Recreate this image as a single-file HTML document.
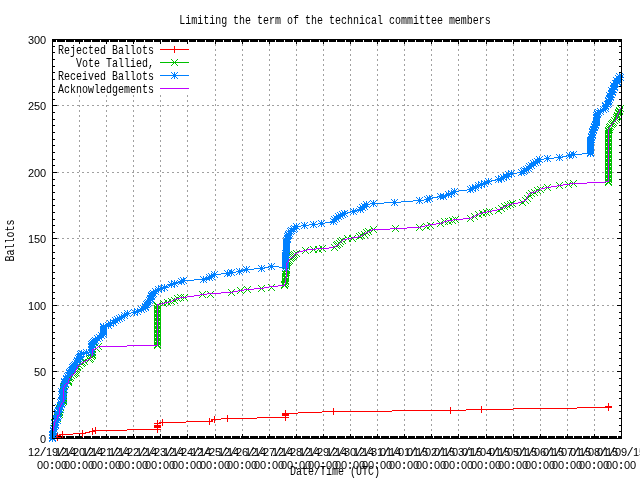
<!DOCTYPE html>
<html lang="en"><head><meta charset="utf-8"><title>Limiting the term of the technical committee members</title><style>html,body{margin:0;padding:0;background:#fff;overflow:hidden}svg{display:block}text.n{font-family:"Liberation Sans",sans-serif;font-size:11px}.p{font-family:"Liberation Mono",monospace;font-size:12px}</style></head><body>
<svg width="640" height="480" viewBox="0 0 640 480">
<rect width="640" height="480" fill="#fff"/>
<g transform="translate(0,0.5)" fill="none" stroke-width="1" shape-rendering="crispEdges">
<path stroke="#a0a0a0" d="M215 39h1M242 39h1M269 39h1M296 39h1M323 39h1M350 39h1M377 39h1M404 39h1M431 39h1M458 39h1M486 39h1M513 39h1M540 39h1M567 39h1M594 39h1M215 40h1M242 40h1M269 40h1M296 40h1M323 40h1M350 40h1M377 40h1M404 40h1M431 40h1M458 40h1M486 40h1M513 40h1M540 40h1M567 40h1M594 40h1M215 44h1M242 44h1M269 44h1M296 44h1M323 44h1M350 44h1M377 44h1M404 44h1M431 44h1M458 44h1M486 44h1M513 44h1M540 44h1M567 44h1M594 44h1M215 45h1M242 45h1M269 45h1M296 45h1M323 45h1M350 45h1M377 45h1M404 45h1M431 45h1M458 45h1M486 45h1M513 45h1M540 45h1M567 45h1M594 45h1M215 49h1M242 49h1M269 49h1M296 49h1M323 49h1M350 49h1M377 49h1M404 49h1M431 49h1M458 49h1M486 49h1M513 49h1M540 49h1M567 49h1M594 49h1M215 50h1M242 50h1M269 50h1M296 50h1M323 50h1M350 50h1M377 50h1M404 50h1M431 50h1M458 50h1M486 50h1M513 50h1M540 50h1M567 50h1M594 50h1M215 54h1M242 54h1M269 54h1M296 54h1M323 54h1M350 54h1M377 54h1M404 54h1M431 54h1M458 54h1M486 54h1M513 54h1M540 54h1M567 54h1M594 54h1M215 55h1M242 55h1M269 55h1M296 55h1M323 55h1M350 55h1M377 55h1M404 55h1M431 55h1M458 55h1M486 55h1M513 55h1M540 55h1M567 55h1M594 55h1M215 59h1M242 59h1M269 59h1M296 59h1M323 59h1M350 59h1M377 59h1M404 59h1M431 59h1M458 59h1M486 59h1M513 59h1M540 59h1M567 59h1M594 59h1M215 60h1M242 60h1M269 60h1M296 60h1M323 60h1M350 60h1M377 60h1M404 60h1M431 60h1M458 60h1M486 60h1M513 60h1M540 60h1M567 60h1M594 60h1M215 64h1M242 64h1M269 64h1M296 64h1M323 64h1M350 64h1M377 64h1M404 64h1M431 64h1M458 64h1M486 64h1M513 64h1M540 64h1M567 64h1M594 64h1M215 65h1M242 65h1M269 65h1M296 65h1M323 65h1M350 65h1M377 65h1M404 65h1M431 65h1M458 65h1M486 65h1M513 65h1M540 65h1M567 65h1M594 65h1M215 69h1M242 69h1M269 69h1M296 69h1M323 69h1M350 69h1M377 69h1M404 69h1M431 69h1M458 69h1M486 69h1M513 69h1M540 69h1M567 69h1M594 69h1M215 70h1M242 70h1M269 70h1M296 70h1M323 70h1M350 70h1M377 70h1M404 70h1M431 70h1M458 70h1M486 70h1M513 70h1M540 70h1M567 70h1M594 70h1M215 74h1M242 74h1M269 74h1M296 74h1M323 74h1M350 74h1M377 74h1M404 74h1M431 74h1M458 74h1M486 74h1M513 74h1M540 74h1M567 74h1M594 74h1M215 75h1M242 75h1M269 75h1M296 75h1M323 75h1M350 75h1M377 75h1M404 75h1M431 75h1M458 75h1M486 75h1M513 75h1M540 75h1M567 75h1M594 75h1M215 79h1M242 79h1M269 79h1M296 79h1M323 79h1M350 79h1M377 79h1M404 79h1M431 79h1M458 79h1M486 79h1M513 79h1M540 79h1M567 79h1M594 79h1M215 80h1M242 80h1M269 80h1M296 80h1M323 80h1M350 80h1M377 80h1M404 80h1M431 80h1M458 80h1M486 80h1M513 80h1M540 80h1M567 80h1M594 80h1M215 84h1M242 84h1M269 84h1M296 84h1M323 84h1M350 84h1M377 84h1M404 84h1M431 84h1M458 84h1M486 84h1M513 84h1M540 84h1M567 84h1M594 84h1M215 85h1M242 85h1M269 85h1M296 85h1M323 85h1M350 85h1M377 85h1M404 85h1M431 85h1M458 85h1M486 85h1M513 85h1M540 85h1M567 85h1M594 85h1M215 89h1M242 89h1M269 89h1M296 89h1M323 89h1M350 89h1M377 89h1M404 89h1M431 89h1M458 89h1M486 89h1M513 89h1M540 89h1M567 89h1M594 89h1M215 90h1M242 90h1M269 90h1M296 90h1M323 90h1M350 90h1M377 90h1M404 90h1M431 90h1M458 90h1M486 90h1M513 90h1M540 90h1M567 90h1M594 90h1M215 94h1M242 94h1M269 94h1M296 94h1M323 94h1M350 94h1M377 94h1M404 94h1M431 94h1M458 94h1M486 94h1M513 94h1M540 94h1M567 94h1M594 94h1M79 95h1M106 95h1M133 95h1M160 95h1M187 95h1M215 95h1M242 95h1M269 95h1M296 95h1M323 95h1M350 95h1M377 95h1M404 95h1M431 95h1M458 95h1M486 95h1M513 95h1M540 95h1M567 95h1M594 95h1M79 96h1M106 96h1M133 96h1M160 96h1M187 96h1M215 99h1M242 99h1M269 99h1M296 99h1M323 99h1M350 99h1M377 99h1M404 99h1M431 99h1M458 99h1M486 99h1M513 99h1M540 99h1M567 99h1M594 99h1M79 100h1M106 100h1M133 100h1M160 100h1M187 100h1M215 100h1M242 100h1M269 100h1M296 100h1M323 100h1M350 100h1M377 100h1M404 100h1M431 100h1M458 100h1M486 100h1M513 100h1M540 100h1M567 100h1M594 100h1M79 101h1M106 101h1M133 101h1M160 101h1M187 101h1M215 104h1M242 104h1M269 104h1M296 104h1M323 104h1M350 104h1M377 104h1M404 104h1M431 104h1M458 104h1M486 104h1M513 104h1M540 104h1M567 104h1M594 104h1M52 105h2M57 105h2M62 105h2M67 105h2M72 105h2M77 105h3M82 105h2M87 105h2M92 105h2M97 105h2M102 105h2M106 105h3M112 105h2M117 105h2M122 105h2M127 105h2M132 105h2M137 105h2M142 105h2M147 105h2M152 105h2M157 105h2M160 105h1M162 105h2M167 105h2M172 105h2M177 105h2M182 105h2M187 105h2M192 105h2M197 105h2M202 105h2M207 105h2M212 105h2M215 105h1M217 105h2M222 105h2M227 105h2M232 105h2M237 105h2M242 105h2M247 105h2M252 105h2M257 105h2M262 105h2M267 105h3M272 105h2M277 105h2M282 105h2M287 105h2M292 105h2M296 105h3M302 105h2M307 105h2M312 105h2M317 105h2M322 105h2M327 105h2M332 105h2M337 105h2M342 105h2M347 105h2M350 105h1M352 105h2M357 105h2M362 105h2M367 105h2M372 105h2M377 105h2M382 105h2M387 105h2M392 105h2M397 105h2M402 105h3M407 105h2M412 105h2M417 105h2M422 105h2M427 105h2M431 105h3M437 105h2M442 105h2M447 105h2M452 105h2M457 105h2M462 105h2M467 105h2M472 105h2M477 105h2M482 105h2M486 105h3M492 105h2M497 105h2M502 105h2M507 105h2M512 105h2M517 105h2M522 105h2M527 105h2M532 105h2M537 105h2M540 105h1M542 105h2M547 105h2M552 105h2M557 105h2M562 105h2M567 105h2M572 105h2M577 105h2M582 105h2M587 105h2M592 105h3M597 105h2M602 105h2M607 105h2M612 105h2M617 105h2M79 106h1M106 106h1M133 106h1M160 106h1M187 106h1M215 109h1M242 109h1M269 109h1M296 109h1M323 109h1M350 109h1M377 109h1M404 109h1M431 109h1M458 109h1M486 109h1M513 109h1M540 109h1M567 109h1M594 109h1M79 110h1M106 110h1M133 110h1M160 110h1M187 110h1M215 110h1M242 110h1M269 110h1M296 110h1M323 110h1M350 110h1M377 110h1M404 110h1M431 110h1M458 110h1M486 110h1M513 110h1M540 110h1M567 110h1M594 110h1M79 111h1M106 111h1M133 111h1M160 111h1M187 111h1M215 114h1M242 114h1M269 114h1M296 114h1M323 114h1M350 114h1M377 114h1M404 114h1M431 114h1M458 114h1M486 114h1M513 114h1M540 114h1M567 114h1M594 114h1M79 115h1M106 115h1M133 115h1M160 115h1M187 115h1M215 115h1M242 115h1M269 115h1M296 115h1M323 115h1M350 115h1M377 115h1M404 115h1M431 115h1M458 115h1M486 115h1M513 115h1M540 115h1M567 115h1M594 115h1M79 116h1M106 116h1M133 116h1M160 116h1M187 116h1M215 119h1M242 119h1M269 119h1M296 119h1M323 119h1M350 119h1M377 119h1M404 119h1M431 119h1M458 119h1M486 119h1M513 119h1M540 119h1M567 119h1M594 119h1M79 120h1M106 120h1M133 120h1M160 120h1M187 120h1M215 120h1M242 120h1M269 120h1M296 120h1M323 120h1M350 120h1M377 120h1M404 120h1M431 120h1M458 120h1M486 120h1M513 120h1M540 120h1M567 120h1M594 120h1M79 121h1M106 121h1M133 121h1M160 121h1M187 121h1M215 124h1M242 124h1M269 124h1M296 124h1M323 124h1M350 124h1M377 124h1M404 124h1M431 124h1M458 124h1M486 124h1M513 124h1M540 124h1M567 124h1M594 124h1M79 125h1M106 125h1M133 125h1M160 125h1M187 125h1M215 125h1M242 125h1M269 125h1M296 125h1M323 125h1M350 125h1M377 125h1M404 125h1M431 125h1M458 125h1M486 125h1M513 125h1M540 125h1M567 125h1M594 125h1M79 126h1M106 126h1M133 126h1M160 126h1M187 126h1M215 129h1M242 129h1M269 129h1M296 129h1M323 129h1M350 129h1M377 129h1M404 129h1M431 129h1M458 129h1M486 129h1M513 129h1M540 129h1M567 129h1M594 129h1M79 130h1M106 130h1M133 130h1M160 130h1M187 130h1M215 130h1M242 130h1M269 130h1M296 130h1M323 130h1M350 130h1M377 130h1M404 130h1M431 130h1M458 130h1M486 130h1M513 130h1M540 130h1M567 130h1M594 130h1M79 131h1M106 131h1M133 131h1M160 131h1M187 131h1M215 134h1M242 134h1M269 134h1M296 134h1M323 134h1M350 134h1M377 134h1M404 134h1M431 134h1M458 134h1M486 134h1M513 134h1M540 134h1M567 134h1M594 134h1M79 135h1M106 135h1M133 135h1M160 135h1M187 135h1M215 135h1M242 135h1M269 135h1M296 135h1M323 135h1M350 135h1M377 135h1M404 135h1M431 135h1M458 135h1M486 135h1M513 135h1M540 135h1M567 135h1M594 135h1M79 136h1M106 136h1M133 136h1M160 136h1M187 136h1M215 139h1M242 139h1M269 139h1M296 139h1M323 139h1M350 139h1M377 139h1M404 139h1M431 139h1M458 139h1M486 139h1M513 139h1M540 139h1M567 139h1M594 139h1M79 140h1M106 140h1M133 140h1M160 140h1M187 140h1M215 140h1M242 140h1M269 140h1M296 140h1M323 140h1M350 140h1M377 140h1M404 140h1M431 140h1M458 140h1M486 140h1M513 140h1M540 140h1M567 140h1M594 140h1M79 141h1M106 141h1M133 141h1M160 141h1M187 141h1M215 144h1M242 144h1M269 144h1M296 144h1M323 144h1M350 144h1M377 144h1M404 144h1M431 144h1M458 144h1M486 144h1M513 144h1M540 144h1M567 144h1M594 144h1M79 145h1M106 145h1M133 145h1M160 145h1M187 145h1M215 145h1M242 145h1M269 145h1M296 145h1M323 145h1M350 145h1M377 145h1M404 145h1M431 145h1M458 145h1M486 145h1M513 145h1M540 145h1M567 145h1M594 145h1M79 146h1M106 146h1M133 146h1M160 146h1M187 146h1M215 149h1M242 149h1M269 149h1M296 149h1M323 149h1M350 149h1M377 149h1M404 149h1M431 149h1M458 149h1M486 149h1M513 149h1M540 149h1M567 149h1M594 149h1M79 150h1M106 150h1M133 150h1M160 150h1M187 150h1M215 150h1M242 150h1M269 150h1M296 150h1M323 150h1M350 150h1M377 150h1M404 150h1M431 150h1M458 150h1M486 150h1M513 150h1M540 150h1M567 150h1M594 150h1M79 151h1M106 151h1M133 151h1M160 151h1M187 151h1M215 154h1M242 154h1M269 154h1M296 154h1M323 154h1M350 154h1M377 154h1M404 154h1M431 154h1M458 154h1M486 154h1M513 154h1M540 154h1M567 154h1M594 154h1M79 155h1M106 155h1M133 155h1M160 155h1M187 155h1M215 155h1M242 155h1M269 155h1M296 155h1M323 155h1M350 155h1M377 155h1M404 155h1M431 155h1M458 155h1M486 155h1M513 155h1M540 155h1M567 155h1M594 155h1M79 156h1M106 156h1M133 156h1M160 156h1M187 156h1M215 159h1M242 159h1M269 159h1M296 159h1M323 159h1M350 159h1M377 159h1M404 159h1M431 159h1M458 159h1M486 159h1M513 159h1M540 159h1M567 159h1M594 159h1M79 160h1M106 160h1M133 160h1M160 160h1M187 160h1M215 160h1M242 160h1M269 160h1M296 160h1M323 160h1M350 160h1M377 160h1M404 160h1M431 160h1M458 160h1M486 160h1M513 160h1M540 160h1M567 160h1M594 160h1M79 161h1M106 161h1M133 161h1M160 161h1M187 161h1M215 164h1M242 164h1M269 164h1M296 164h1M323 164h1M350 164h1M377 164h1M404 164h1M431 164h1M458 164h1M486 164h1M513 164h1M540 164h1M567 164h1M594 164h1M79 165h1M106 165h1M133 165h1M160 165h1M187 165h1M215 165h1M242 165h1M269 165h1M296 165h1M323 165h1M350 165h1M377 165h1M404 165h1M431 165h1M458 165h1M486 165h1M513 165h1M540 165h1M567 165h1M594 165h1M79 166h1M106 166h1M133 166h1M160 166h1M187 166h1M215 169h1M242 169h1M269 169h1M296 169h1M323 169h1M350 169h1M377 169h1M404 169h1M431 169h1M458 169h1M486 169h1M513 169h1M540 169h1M567 169h1M594 169h1M79 170h1M106 170h1M133 170h1M160 170h1M187 170h1M215 170h1M242 170h1M269 170h1M296 170h1M323 170h1M350 170h1M377 170h1M404 170h1M431 170h1M458 170h1M486 170h1M513 170h1M540 170h1M567 170h1M594 170h1M79 171h1M106 171h1M133 171h1M160 171h1M187 171h1M52 172h2M57 172h2M62 172h2M67 172h2M72 172h2M77 172h2M82 172h2M87 172h2M92 172h2M97 172h2M102 172h2M107 172h2M112 172h2M117 172h2M122 172h2M127 172h2M132 172h2M137 172h2M142 172h2M147 172h2M152 172h2M157 172h2M162 172h2M167 172h2M172 172h2M177 172h2M182 172h2M187 172h2M192 172h2M197 172h2M202 172h2M207 172h2M212 172h2M217 172h2M222 172h2M227 172h2M232 172h2M237 172h2M242 172h2M247 172h2M252 172h2M257 172h2M262 172h2M267 172h2M272 172h2M277 172h2M282 172h2M287 172h2M292 172h2M297 172h2M302 172h2M307 172h2M312 172h2M317 172h2M322 172h2M327 172h2M332 172h2M337 172h2M342 172h2M347 172h2M352 172h2M357 172h2M362 172h2M367 172h2M372 172h2M377 172h2M382 172h2M387 172h2M392 172h2M397 172h2M402 172h2M407 172h2M412 172h2M417 172h2M422 172h2M427 172h2M432 172h2M437 172h2M442 172h2M447 172h2M452 172h2M457 172h2M462 172h2M467 172h2M472 172h2M477 172h2M482 172h2M487 172h2M492 172h2M497 172h2M502 172h2M507 172h2M512 172h2M517 172h2M522 172h2M527 172h2M532 172h2M537 172h2M542 172h2M547 172h2M552 172h2M557 172h2M562 172h2M567 172h2M572 172h2M577 172h2M582 172h2M587 172h2M592 172h2M597 172h2M602 172h2M607 172h2M612 172h2M617 172h2M215 174h1M242 174h1M269 174h1M296 174h1M323 174h1M350 174h1M377 174h1M404 174h1M431 174h1M458 174h1M486 174h1M513 174h1M540 174h1M567 174h1M594 174h1M79 175h1M106 175h1M133 175h1M160 175h1M187 175h1M215 175h1M242 175h1M269 175h1M296 175h1M323 175h1M350 175h1M377 175h1M404 175h1M431 175h1M458 175h1M486 175h1M513 175h1M540 175h1M567 175h1M594 175h1M79 176h1M106 176h1M133 176h1M160 176h1M187 176h1M215 179h1M242 179h1M269 179h1M296 179h1M323 179h1M350 179h1M377 179h1M404 179h1M431 179h1M458 179h1M486 179h1M513 179h1M540 179h1M567 179h1M594 179h1M79 180h1M106 180h1M133 180h1M160 180h1M187 180h1M215 180h1M242 180h1M269 180h1M296 180h1M323 180h1M350 180h1M377 180h1M404 180h1M431 180h1M458 180h1M486 180h1M513 180h1M540 180h1M567 180h1M594 180h1M79 181h1M106 181h1M133 181h1M160 181h1M187 181h1M215 184h1M242 184h1M269 184h1M296 184h1M323 184h1M350 184h1M377 184h1M404 184h1M431 184h1M458 184h1M486 184h1M513 184h1M540 184h1M567 184h1M594 184h1M79 185h1M106 185h1M133 185h1M160 185h1M187 185h1M215 185h1M242 185h1M269 185h1M296 185h1M323 185h1M350 185h1M377 185h1M404 185h1M431 185h1M458 185h1M486 185h1M513 185h1M540 185h1M567 185h1M594 185h1M79 186h1M106 186h1M133 186h1M160 186h1M187 186h1M215 189h1M242 189h1M269 189h1M296 189h1M323 189h1M350 189h1M377 189h1M404 189h1M431 189h1M458 189h1M486 189h1M513 189h1M540 189h1M567 189h1M594 189h1M79 190h1M106 190h1M133 190h1M160 190h1M187 190h1M215 190h1M242 190h1M269 190h1M296 190h1M323 190h1M350 190h1M377 190h1M404 190h1M431 190h1M458 190h1M486 190h1M513 190h1M540 190h1M567 190h1M594 190h1M79 191h1M106 191h1M133 191h1M160 191h1M187 191h1M215 194h1M242 194h1M269 194h1M296 194h1M323 194h1M350 194h1M377 194h1M404 194h1M431 194h1M458 194h1M486 194h1M513 194h1M540 194h1M567 194h1M594 194h1M79 195h1M106 195h1M133 195h1M160 195h1M187 195h1M215 195h1M242 195h1M269 195h1M296 195h1M323 195h1M350 195h1M377 195h1M404 195h1M431 195h1M458 195h1M486 195h1M513 195h1M540 195h1M567 195h1M594 195h1M79 196h1M106 196h1M133 196h1M160 196h1M187 196h1M215 199h1M242 199h1M269 199h1M296 199h1M323 199h1M350 199h1M377 199h1M404 199h1M431 199h1M458 199h1M486 199h1M513 199h1M540 199h1M567 199h1M594 199h1M79 200h1M106 200h1M133 200h1M160 200h1M187 200h1M215 200h1M242 200h1M269 200h1M296 200h1M323 200h1M350 200h1M377 200h1M404 200h1M431 200h1M458 200h1M486 200h1M513 200h1M540 200h1M567 200h1M594 200h1M79 201h1M106 201h1M133 201h1M160 201h1M187 201h1M215 204h1M242 204h1M269 204h1M296 204h1M323 204h1M350 204h1M377 204h1M404 204h1M431 204h1M458 204h1M486 204h1M513 204h1M540 204h1M567 204h1M594 204h1M79 205h1M106 205h1M133 205h1M160 205h1M187 205h1M215 205h1M242 205h1M269 205h1M296 205h1M323 205h1M350 205h1M377 205h1M404 205h1M431 205h1M458 205h1M486 205h1M513 205h1M540 205h1M567 205h1M594 205h1M79 206h1M106 206h1M133 206h1M160 206h1M187 206h1M215 209h1M242 209h1M269 209h1M296 209h1M323 209h1M350 209h1M377 209h1M404 209h1M431 209h1M458 209h1M486 209h1M513 209h1M540 209h1M567 209h1M594 209h1M79 210h1M106 210h1M133 210h1M160 210h1M187 210h1M215 210h1M242 210h1M269 210h1M296 210h1M323 210h1M350 210h1M377 210h1M404 210h1M431 210h1M458 210h1M486 210h1M513 210h1M540 210h1M567 210h1M594 210h1M79 211h1M106 211h1M133 211h1M160 211h1M187 211h1M215 214h1M242 214h1M269 214h1M296 214h1M323 214h1M350 214h1M377 214h1M404 214h1M431 214h1M458 214h1M486 214h1M513 214h1M540 214h1M567 214h1M594 214h1M79 215h1M106 215h1M133 215h1M160 215h1M187 215h1M215 215h1M242 215h1M269 215h1M296 215h1M323 215h1M350 215h1M377 215h1M404 215h1M431 215h1M458 215h1M486 215h1M513 215h1M540 215h1M567 215h1M594 215h1M79 216h1M106 216h1M133 216h1M160 216h1M187 216h1M215 219h1M242 219h1M269 219h1M296 219h1M323 219h1M350 219h1M377 219h1M404 219h1M431 219h1M458 219h1M486 219h1M513 219h1M540 219h1M567 219h1M594 219h1M79 220h1M106 220h1M133 220h1M160 220h1M187 220h1M215 220h1M242 220h1M269 220h1M296 220h1M323 220h1M350 220h1M377 220h1M404 220h1M431 220h1M458 220h1M486 220h1M513 220h1M540 220h1M567 220h1M594 220h1M79 221h1M106 221h1M133 221h1M160 221h1M187 221h1M215 224h1M242 224h1M269 224h1M296 224h1M323 224h1M350 224h1M377 224h1M404 224h1M431 224h1M458 224h1M486 224h1M513 224h1M540 224h1M567 224h1M594 224h1M79 225h1M106 225h1M133 225h1M160 225h1M187 225h1M215 225h1M242 225h1M269 225h1M296 225h1M323 225h1M350 225h1M377 225h1M404 225h1M431 225h1M458 225h1M486 225h1M513 225h1M540 225h1M567 225h1M594 225h1M79 226h1M106 226h1M133 226h1M160 226h1M187 226h1M215 229h1M242 229h1M269 229h1M296 229h1M323 229h1M350 229h1M377 229h1M404 229h1M431 229h1M458 229h1M486 229h1M513 229h1M540 229h1M567 229h1M594 229h1M79 230h1M106 230h1M133 230h1M160 230h1M187 230h1M215 230h1M242 230h1M269 230h1M296 230h1M323 230h1M350 230h1M377 230h1M404 230h1M431 230h1M458 230h1M486 230h1M513 230h1M540 230h1M567 230h1M594 230h1M79 231h1M106 231h1M133 231h1M160 231h1M187 231h1M215 234h1M242 234h1M269 234h1M296 234h1M323 234h1M350 234h1M377 234h1M404 234h1M431 234h1M458 234h1M486 234h1M513 234h1M540 234h1M567 234h1M594 234h1M79 235h1M106 235h1M133 235h1M160 235h1M187 235h1M215 235h1M242 235h1M269 235h1M296 235h1M323 235h1M350 235h1M377 235h1M404 235h1M431 235h1M458 235h1M486 235h1M513 235h1M540 235h1M567 235h1M594 235h1M79 236h1M106 236h1M133 236h1M160 236h1M187 236h1M52 238h2M57 238h2M62 238h2M67 238h2M72 238h2M77 238h2M82 238h2M87 238h2M92 238h2M97 238h2M102 238h2M107 238h2M112 238h2M117 238h2M122 238h2M127 238h2M132 238h2M137 238h2M142 238h2M147 238h2M152 238h2M157 238h2M162 238h2M167 238h2M172 238h2M177 238h2M182 238h2M187 238h2M192 238h2M197 238h2M202 238h2M207 238h2M212 238h2M217 238h2M222 238h2M227 238h2M232 238h2M237 238h2M242 238h2M247 238h2M252 238h2M257 238h2M262 238h2M267 238h2M272 238h2M277 238h2M282 238h2M287 238h2M292 238h2M297 238h2M302 238h2M307 238h2M312 238h2M317 238h2M322 238h2M327 238h2M332 238h2M337 238h2M342 238h2M347 238h2M352 238h2M357 238h2M362 238h2M367 238h2M372 238h2M377 238h2M382 238h2M387 238h2M392 238h2M397 238h2M402 238h2M407 238h2M412 238h2M417 238h2M422 238h2M427 238h2M432 238h2M437 238h2M442 238h2M447 238h2M452 238h2M457 238h2M462 238h2M467 238h2M472 238h2M477 238h2M482 238h2M487 238h2M492 238h2M497 238h2M502 238h2M507 238h2M512 238h2M517 238h2M522 238h2M527 238h2M532 238h2M537 238h2M542 238h2M547 238h2M552 238h2M557 238h2M562 238h2M567 238h2M572 238h2M577 238h2M582 238h2M587 238h2M592 238h2M597 238h2M602 238h2M607 238h2M612 238h2M617 238h2M215 239h1M242 239h1M269 239h1M296 239h1M323 239h1M350 239h1M377 239h1M404 239h1M431 239h1M458 239h1M486 239h1M513 239h1M540 239h1M567 239h1M594 239h1M79 240h1M106 240h1M133 240h1M160 240h1M187 240h1M215 240h1M242 240h1M269 240h1M296 240h1M323 240h1M350 240h1M377 240h1M404 240h1M431 240h1M458 240h1M486 240h1M513 240h1M540 240h1M567 240h1M594 240h1M79 241h1M106 241h1M133 241h1M160 241h1M187 241h1M215 244h1M242 244h1M269 244h1M296 244h1M323 244h1M350 244h1M377 244h1M404 244h1M431 244h1M458 244h1M486 244h1M513 244h1M540 244h1M567 244h1M594 244h1M79 245h1M106 245h1M133 245h1M160 245h1M187 245h1M215 245h1M242 245h1M269 245h1M296 245h1M323 245h1M350 245h1M377 245h1M404 245h1M431 245h1M458 245h1M486 245h1M513 245h1M540 245h1M567 245h1M594 245h1M79 246h1M106 246h1M133 246h1M160 246h1M187 246h1M215 249h1M242 249h1M269 249h1M296 249h1M323 249h1M350 249h1M377 249h1M404 249h1M431 249h1M458 249h1M486 249h1M513 249h1M540 249h1M567 249h1M594 249h1M79 250h1M106 250h1M133 250h1M160 250h1M187 250h1M215 250h1M242 250h1M269 250h1M296 250h1M323 250h1M350 250h1M377 250h1M404 250h1M431 250h1M458 250h1M486 250h1M513 250h1M540 250h1M567 250h1M594 250h1M79 251h1M106 251h1M133 251h1M160 251h1M187 251h1M215 254h1M242 254h1M269 254h1M296 254h1M323 254h1M350 254h1M377 254h1M404 254h1M431 254h1M458 254h1M486 254h1M513 254h1M540 254h1M567 254h1M594 254h1M79 255h1M106 255h1M133 255h1M160 255h1M187 255h1M215 255h1M242 255h1M269 255h1M296 255h1M323 255h1M350 255h1M377 255h1M404 255h1M431 255h1M458 255h1M486 255h1M513 255h1M540 255h1M567 255h1M594 255h1M79 256h1M106 256h1M133 256h1M160 256h1M187 256h1M215 259h1M242 259h1M269 259h1M296 259h1M323 259h1M350 259h1M377 259h1M404 259h1M431 259h1M458 259h1M486 259h1M513 259h1M540 259h1M567 259h1M594 259h1M79 260h1M106 260h1M133 260h1M160 260h1M187 260h1M215 260h1M242 260h1M269 260h1M296 260h1M323 260h1M350 260h1M377 260h1M404 260h1M431 260h1M458 260h1M486 260h1M513 260h1M540 260h1M567 260h1M594 260h1M79 261h1M106 261h1M133 261h1M160 261h1M187 261h1M215 264h1M242 264h1M269 264h1M296 264h1M323 264h1M350 264h1M377 264h1M404 264h1M431 264h1M458 264h1M486 264h1M513 264h1M540 264h1M567 264h1M594 264h1M79 265h1M106 265h1M133 265h1M160 265h1M187 265h1M215 265h1M242 265h1M269 265h1M296 265h1M323 265h1M350 265h1M377 265h1M404 265h1M431 265h1M458 265h1M486 265h1M513 265h1M540 265h1M567 265h1M594 265h1M79 266h1M106 266h1M133 266h1M160 266h1M187 266h1M215 269h1M242 269h1M269 269h1M296 269h1M323 269h1M350 269h1M377 269h1M404 269h1M431 269h1M458 269h1M486 269h1M513 269h1M540 269h1M567 269h1M594 269h1M79 270h1M106 270h1M133 270h1M160 270h1M187 270h1M215 270h1M242 270h1M269 270h1M296 270h1M323 270h1M350 270h1M377 270h1M404 270h1M431 270h1M458 270h1M486 270h1M513 270h1M540 270h1M567 270h1M594 270h1M79 271h1M106 271h1M133 271h1M160 271h1M187 271h1M215 274h1M242 274h1M269 274h1M296 274h1M323 274h1M350 274h1M377 274h1M404 274h1M431 274h1M458 274h1M486 274h1M513 274h1M540 274h1M567 274h1M594 274h1M79 275h1M106 275h1M133 275h1M160 275h1M187 275h1M215 275h1M242 275h1M269 275h1M296 275h1M323 275h1M350 275h1M377 275h1M404 275h1M431 275h1M458 275h1M486 275h1M513 275h1M540 275h1M567 275h1M594 275h1M79 276h1M106 276h1M133 276h1M160 276h1M187 276h1M215 279h1M242 279h1M269 279h1M296 279h1M323 279h1M350 279h1M377 279h1M404 279h1M431 279h1M458 279h1M486 279h1M513 279h1M540 279h1M567 279h1M594 279h1M79 280h1M106 280h1M133 280h1M160 280h1M187 280h1M215 280h1M242 280h1M269 280h1M296 280h1M323 280h1M350 280h1M377 280h1M404 280h1M431 280h1M458 280h1M486 280h1M513 280h1M540 280h1M567 280h1M594 280h1M79 281h1M106 281h1M133 281h1M160 281h1M187 281h1M215 284h1M242 284h1M269 284h1M296 284h1M323 284h1M350 284h1M377 284h1M404 284h1M431 284h1M458 284h1M486 284h1M513 284h1M540 284h1M567 284h1M594 284h1M79 285h1M106 285h1M133 285h1M160 285h1M187 285h1M215 285h1M242 285h1M269 285h1M296 285h1M323 285h1M350 285h1M377 285h1M404 285h1M431 285h1M458 285h1M486 285h1M513 285h1M540 285h1M567 285h1M594 285h1M79 286h1M106 286h1M133 286h1M160 286h1M187 286h1M215 289h1M242 289h1M269 289h1M296 289h1M323 289h1M350 289h1M377 289h1M404 289h1M431 289h1M458 289h1M486 289h1M513 289h1M540 289h1M567 289h1M594 289h1M79 290h1M106 290h1M133 290h1M160 290h1M187 290h1M215 290h1M242 290h1M269 290h1M296 290h1M323 290h1M350 290h1M377 290h1M404 290h1M431 290h1M458 290h1M486 290h1M513 290h1M540 290h1M567 290h1M594 290h1M79 291h1M106 291h1M133 291h1M160 291h1M187 291h1M215 294h1M242 294h1M269 294h1M296 294h1M323 294h1M350 294h1M377 294h1M404 294h1M431 294h1M458 294h1M486 294h1M513 294h1M540 294h1M567 294h1M594 294h1M79 295h1M106 295h1M133 295h1M160 295h1M187 295h1M215 295h1M242 295h1M269 295h1M296 295h1M323 295h1M350 295h1M377 295h1M404 295h1M431 295h1M458 295h1M486 295h1M513 295h1M540 295h1M567 295h1M594 295h1M79 296h1M106 296h1M133 296h1M160 296h1M187 296h1M215 299h1M242 299h1M269 299h1M296 299h1M323 299h1M350 299h1M377 299h1M404 299h1M431 299h1M458 299h1M486 299h1M513 299h1M540 299h1M567 299h1M594 299h1M79 300h1M106 300h1M133 300h1M160 300h1M187 300h1M215 300h1M242 300h1M269 300h1M296 300h1M323 300h1M350 300h1M377 300h1M404 300h1M431 300h1M458 300h1M486 300h1M513 300h1M540 300h1M567 300h1M594 300h1M79 301h1M106 301h1M133 301h1M160 301h1M187 301h1M215 304h1M242 304h1M269 304h1M296 304h1M323 304h1M350 304h1M377 304h1M404 304h1M431 304h1M458 304h1M486 304h1M513 304h1M540 304h1M567 304h1M594 304h1M52 305h2M57 305h2M62 305h2M67 305h2M72 305h2M77 305h3M82 305h2M87 305h2M92 305h2M97 305h2M102 305h2M106 305h3M112 305h2M117 305h2M122 305h2M127 305h2M132 305h2M137 305h2M142 305h2M147 305h2M152 305h2M157 305h2M160 305h1M162 305h2M167 305h2M172 305h2M177 305h2M182 305h2M187 305h2M192 305h2M197 305h2M202 305h2M207 305h2M212 305h2M215 305h1M217 305h2M222 305h2M227 305h2M232 305h2M237 305h2M242 305h2M247 305h2M252 305h2M257 305h2M262 305h2M267 305h3M272 305h2M277 305h2M282 305h2M287 305h2M292 305h2M296 305h3M302 305h2M307 305h2M312 305h2M317 305h2M322 305h2M327 305h2M332 305h2M337 305h2M342 305h2M347 305h2M350 305h1M352 305h2M357 305h2M362 305h2M367 305h2M372 305h2M377 305h2M382 305h2M387 305h2M392 305h2M397 305h2M402 305h3M407 305h2M412 305h2M417 305h2M422 305h2M427 305h2M431 305h3M437 305h2M442 305h2M447 305h2M452 305h2M457 305h2M462 305h2M467 305h2M472 305h2M477 305h2M482 305h2M486 305h3M492 305h2M497 305h2M502 305h2M507 305h2M512 305h2M517 305h2M522 305h2M527 305h2M532 305h2M537 305h2M540 305h1M542 305h2M547 305h2M552 305h2M557 305h2M562 305h2M567 305h2M572 305h2M577 305h2M582 305h2M587 305h2M592 305h3M597 305h2M602 305h2M607 305h2M612 305h2M617 305h2M79 306h1M106 306h1M133 306h1M160 306h1M187 306h1M215 309h1M242 309h1M269 309h1M296 309h1M323 309h1M350 309h1M377 309h1M404 309h1M431 309h1M458 309h1M486 309h1M513 309h1M540 309h1M567 309h1M594 309h1M79 310h1M106 310h1M133 310h1M160 310h1M187 310h1M215 310h1M242 310h1M269 310h1M296 310h1M323 310h1M350 310h1M377 310h1M404 310h1M431 310h1M458 310h1M486 310h1M513 310h1M540 310h1M567 310h1M594 310h1M79 311h1M106 311h1M133 311h1M160 311h1M187 311h1M215 314h1M242 314h1M269 314h1M296 314h1M323 314h1M350 314h1M377 314h1M404 314h1M431 314h1M458 314h1M486 314h1M513 314h1M540 314h1M567 314h1M594 314h1M79 315h1M106 315h1M133 315h1M160 315h1M187 315h1M215 315h1M242 315h1M269 315h1M296 315h1M323 315h1M350 315h1M377 315h1M404 315h1M431 315h1M458 315h1M486 315h1M513 315h1M540 315h1M567 315h1M594 315h1M79 316h1M106 316h1M133 316h1M160 316h1M187 316h1M215 319h1M242 319h1M269 319h1M296 319h1M323 319h1M350 319h1M377 319h1M404 319h1M431 319h1M458 319h1M486 319h1M513 319h1M540 319h1M567 319h1M594 319h1M79 320h1M106 320h1M133 320h1M160 320h1M187 320h1M215 320h1M242 320h1M269 320h1M296 320h1M323 320h1M350 320h1M377 320h1M404 320h1M431 320h1M458 320h1M486 320h1M513 320h1M540 320h1M567 320h1M594 320h1M79 321h1M106 321h1M133 321h1M160 321h1M187 321h1M215 324h1M242 324h1M269 324h1M296 324h1M323 324h1M350 324h1M377 324h1M404 324h1M431 324h1M458 324h1M486 324h1M513 324h1M540 324h1M567 324h1M594 324h1M79 325h1M106 325h1M133 325h1M160 325h1M187 325h1M215 325h1M242 325h1M269 325h1M296 325h1M323 325h1M350 325h1M377 325h1M404 325h1M431 325h1M458 325h1M486 325h1M513 325h1M540 325h1M567 325h1M594 325h1M79 326h1M106 326h1M133 326h1M160 326h1M187 326h1M215 329h1M242 329h1M269 329h1M296 329h1M323 329h1M350 329h1M377 329h1M404 329h1M431 329h1M458 329h1M486 329h1M513 329h1M540 329h1M567 329h1M594 329h1M79 330h1M106 330h1M133 330h1M160 330h1M187 330h1M215 330h1M242 330h1M269 330h1M296 330h1M323 330h1M350 330h1M377 330h1M404 330h1M431 330h1M458 330h1M486 330h1M513 330h1M540 330h1M567 330h1M594 330h1M79 331h1M106 331h1M133 331h1M160 331h1M187 331h1M215 334h1M242 334h1M269 334h1M296 334h1M323 334h1M350 334h1M377 334h1M404 334h1M431 334h1M458 334h1M486 334h1M513 334h1M540 334h1M567 334h1M594 334h1M79 335h1M106 335h1M133 335h1M160 335h1M187 335h1M215 335h1M242 335h1M269 335h1M296 335h1M323 335h1M350 335h1M377 335h1M404 335h1M431 335h1M458 335h1M486 335h1M513 335h1M540 335h1M567 335h1M594 335h1M79 336h1M106 336h1M133 336h1M160 336h1M187 336h1M215 339h1M242 339h1M269 339h1M296 339h1M323 339h1M350 339h1M377 339h1M404 339h1M431 339h1M458 339h1M486 339h1M513 339h1M540 339h1M567 339h1M594 339h1M79 340h1M106 340h1M133 340h1M160 340h1M187 340h1M215 340h1M242 340h1M269 340h1M296 340h1M323 340h1M350 340h1M377 340h1M404 340h1M431 340h1M458 340h1M486 340h1M513 340h1M540 340h1M567 340h1M594 340h1M79 341h1M106 341h1M133 341h1M160 341h1M187 341h1M215 344h1M242 344h1M269 344h1M296 344h1M323 344h1M350 344h1M377 344h1M404 344h1M431 344h1M458 344h1M486 344h1M513 344h1M540 344h1M567 344h1M594 344h1M79 345h1M106 345h1M133 345h1M160 345h1M187 345h1M215 345h1M242 345h1M269 345h1M296 345h1M323 345h1M350 345h1M377 345h1M404 345h1M431 345h1M458 345h1M486 345h1M513 345h1M540 345h1M567 345h1M594 345h1M79 346h1M106 346h1M133 346h1M160 346h1M187 346h1M215 349h1M242 349h1M269 349h1M296 349h1M323 349h1M350 349h1M377 349h1M404 349h1M431 349h1M458 349h1M486 349h1M513 349h1M540 349h1M567 349h1M594 349h1M79 350h1M106 350h1M133 350h1M160 350h1M187 350h1M215 350h1M242 350h1M269 350h1M296 350h1M323 350h1M350 350h1M377 350h1M404 350h1M431 350h1M458 350h1M486 350h1M513 350h1M540 350h1M567 350h1M594 350h1M79 351h1M106 351h1M133 351h1M160 351h1M187 351h1M215 354h1M242 354h1M269 354h1M296 354h1M323 354h1M350 354h1M377 354h1M404 354h1M431 354h1M458 354h1M486 354h1M513 354h1M540 354h1M567 354h1M594 354h1M79 355h1M106 355h1M133 355h1M160 355h1M187 355h1M215 355h1M242 355h1M269 355h1M296 355h1M323 355h1M350 355h1M377 355h1M404 355h1M431 355h1M458 355h1M486 355h1M513 355h1M540 355h1M567 355h1M594 355h1M79 356h1M106 356h1M133 356h1M160 356h1M187 356h1M215 359h1M242 359h1M269 359h1M296 359h1M323 359h1M350 359h1M377 359h1M404 359h1M431 359h1M458 359h1M486 359h1M513 359h1M540 359h1M567 359h1M594 359h1M79 360h1M106 360h1M133 360h1M160 360h1M187 360h1M215 360h1M242 360h1M269 360h1M296 360h1M323 360h1M350 360h1M377 360h1M404 360h1M431 360h1M458 360h1M486 360h1M513 360h1M540 360h1M567 360h1M594 360h1M79 361h1M106 361h1M133 361h1M160 361h1M187 361h1M215 364h1M242 364h1M269 364h1M296 364h1M323 364h1M350 364h1M377 364h1M404 364h1M431 364h1M458 364h1M486 364h1M513 364h1M540 364h1M567 364h1M594 364h1M79 365h1M106 365h1M133 365h1M160 365h1M187 365h1M215 365h1M242 365h1M269 365h1M296 365h1M323 365h1M350 365h1M377 365h1M404 365h1M431 365h1M458 365h1M486 365h1M513 365h1M540 365h1M567 365h1M594 365h1M79 366h1M106 366h1M133 366h1M160 366h1M187 366h1M215 369h1M242 369h1M269 369h1M296 369h1M323 369h1M350 369h1M377 369h1M404 369h1M431 369h1M458 369h1M486 369h1M513 369h1M540 369h1M567 369h1M594 369h1M79 370h1M106 370h1M133 370h1M160 370h1M187 370h1M215 370h1M242 370h1M269 370h1M296 370h1M323 370h1M350 370h1M377 370h1M404 370h1M431 370h1M458 370h1M486 370h1M513 370h1M540 370h1M567 370h1M594 370h1M52 371h2M57 371h2M62 371h2M67 371h2M72 371h2M77 371h3M82 371h2M87 371h2M92 371h2M97 371h2M102 371h2M106 371h3M112 371h2M117 371h2M122 371h2M127 371h2M132 371h2M137 371h2M142 371h2M147 371h2M152 371h2M157 371h2M160 371h1M162 371h2M167 371h2M172 371h2M177 371h2M182 371h2M187 371h2M192 371h2M197 371h2M202 371h2M207 371h2M212 371h2M217 371h2M222 371h2M227 371h2M232 371h2M237 371h2M242 371h2M247 371h2M252 371h2M257 371h2M262 371h2M267 371h2M272 371h2M277 371h2M282 371h2M287 371h2M292 371h2M297 371h2M302 371h2M307 371h2M312 371h2M317 371h2M322 371h2M327 371h2M332 371h2M337 371h2M342 371h2M347 371h2M352 371h2M357 371h2M362 371h2M367 371h2M372 371h2M377 371h2M382 371h2M387 371h2M392 371h2M397 371h2M402 371h2M407 371h2M412 371h2M417 371h2M422 371h2M427 371h2M432 371h2M437 371h2M442 371h2M447 371h2M452 371h2M457 371h2M462 371h2M467 371h2M472 371h2M477 371h2M482 371h2M487 371h2M492 371h2M497 371h2M502 371h2M507 371h2M512 371h2M517 371h2M522 371h2M527 371h2M532 371h2M537 371h2M542 371h2M547 371h2M552 371h2M557 371h2M562 371h2M567 371h2M572 371h2M577 371h2M582 371h2M587 371h2M592 371h2M597 371h2M602 371h2M607 371h2M612 371h2M617 371h2M215 374h1M242 374h1M269 374h1M296 374h1M323 374h1M350 374h1M377 374h1M404 374h1M431 374h1M458 374h1M486 374h1M513 374h1M540 374h1M567 374h1M594 374h1M79 375h1M106 375h1M133 375h1M160 375h1M187 375h1M215 375h1M242 375h1M269 375h1M296 375h1M323 375h1M350 375h1M377 375h1M404 375h1M431 375h1M458 375h1M486 375h1M513 375h1M540 375h1M567 375h1M594 375h1M79 376h1M106 376h1M133 376h1M160 376h1M187 376h1M215 379h1M242 379h1M269 379h1M296 379h1M323 379h1M350 379h1M377 379h1M404 379h1M431 379h1M458 379h1M486 379h1M513 379h1M540 379h1M567 379h1M594 379h1M79 380h1M106 380h1M133 380h1M160 380h1M187 380h1M215 380h1M242 380h1M269 380h1M296 380h1M323 380h1M350 380h1M377 380h1M404 380h1M431 380h1M458 380h1M486 380h1M513 380h1M540 380h1M567 380h1M594 380h1M79 381h1M106 381h1M133 381h1M160 381h1M187 381h1M215 384h1M242 384h1M269 384h1M296 384h1M323 384h1M350 384h1M377 384h1M404 384h1M431 384h1M458 384h1M486 384h1M513 384h1M540 384h1M567 384h1M594 384h1M79 385h1M106 385h1M133 385h1M160 385h1M187 385h1M215 385h1M242 385h1M269 385h1M296 385h1M323 385h1M350 385h1M377 385h1M404 385h1M431 385h1M458 385h1M486 385h1M513 385h1M540 385h1M567 385h1M594 385h1M79 386h1M106 386h1M133 386h1M160 386h1M187 386h1M215 389h1M242 389h1M269 389h1M296 389h1M323 389h1M350 389h1M377 389h1M404 389h1M431 389h1M458 389h1M486 389h1M513 389h1M540 389h1M567 389h1M594 389h1M79 390h1M106 390h1M133 390h1M160 390h1M187 390h1M215 390h1M242 390h1M269 390h1M296 390h1M323 390h1M350 390h1M377 390h1M404 390h1M431 390h1M458 390h1M486 390h1M513 390h1M540 390h1M567 390h1M594 390h1M79 391h1M106 391h1M133 391h1M160 391h1M187 391h1M215 394h1M242 394h1M269 394h1M296 394h1M323 394h1M350 394h1M377 394h1M404 394h1M431 394h1M458 394h1M486 394h1M513 394h1M540 394h1M567 394h1M594 394h1M79 395h1M106 395h1M133 395h1M160 395h1M187 395h1M215 395h1M242 395h1M269 395h1M296 395h1M323 395h1M350 395h1M377 395h1M404 395h1M431 395h1M458 395h1M486 395h1M513 395h1M540 395h1M567 395h1M594 395h1M79 396h1M106 396h1M133 396h1M160 396h1M187 396h1M215 399h1M242 399h1M269 399h1M296 399h1M323 399h1M350 399h1M377 399h1M404 399h1M431 399h1M458 399h1M486 399h1M513 399h1M540 399h1M567 399h1M594 399h1M79 400h1M106 400h1M133 400h1M160 400h1M187 400h1M215 400h1M242 400h1M269 400h1M296 400h1M323 400h1M350 400h1M377 400h1M404 400h1M431 400h1M458 400h1M486 400h1M513 400h1M540 400h1M567 400h1M594 400h1M79 401h1M106 401h1M133 401h1M160 401h1M187 401h1M215 404h1M242 404h1M269 404h1M296 404h1M323 404h1M350 404h1M377 404h1M404 404h1M431 404h1M458 404h1M486 404h1M513 404h1M540 404h1M567 404h1M594 404h1M79 405h1M106 405h1M133 405h1M160 405h1M187 405h1M215 405h1M242 405h1M269 405h1M296 405h1M323 405h1M350 405h1M377 405h1M404 405h1M431 405h1M458 405h1M486 405h1M513 405h1M540 405h1M567 405h1M594 405h1M79 406h1M106 406h1M133 406h1M160 406h1M187 406h1M215 409h1M242 409h1M269 409h1M296 409h1M323 409h1M350 409h1M377 409h1M404 409h1M431 409h1M458 409h1M486 409h1M513 409h1M540 409h1M567 409h1M594 409h1M79 410h1M106 410h1M133 410h1M160 410h1M187 410h1M215 410h1M242 410h1M269 410h1M296 410h1M323 410h1M350 410h1M377 410h1M404 410h1M431 410h1M458 410h1M486 410h1M513 410h1M540 410h1M567 410h1M594 410h1M79 411h1M106 411h1M133 411h1M160 411h1M187 411h1M215 414h1M242 414h1M269 414h1M296 414h1M323 414h1M350 414h1M377 414h1M404 414h1M431 414h1M458 414h1M486 414h1M513 414h1M540 414h1M567 414h1M594 414h1M79 415h1M106 415h1M133 415h1M160 415h1M187 415h1M215 415h1M242 415h1M269 415h1M296 415h1M323 415h1M350 415h1M377 415h1M404 415h1M431 415h1M458 415h1M486 415h1M513 415h1M540 415h1M567 415h1M594 415h1M79 416h1M106 416h1M133 416h1M160 416h1M187 416h1M215 419h1M242 419h1M269 419h1M296 419h1M323 419h1M350 419h1M377 419h1M404 419h1M431 419h1M458 419h1M486 419h1M513 419h1M540 419h1M567 419h1M594 419h1M79 420h1M106 420h1M133 420h1M160 420h1M187 420h1M215 420h1M242 420h1M269 420h1M296 420h1M323 420h1M350 420h1M377 420h1M404 420h1M431 420h1M458 420h1M486 420h1M513 420h1M540 420h1M567 420h1M594 420h1M79 421h1M106 421h1M133 421h1M160 421h1M187 421h1M215 424h1M242 424h1M269 424h1M296 424h1M323 424h1M350 424h1M377 424h1M404 424h1M431 424h1M458 424h1M486 424h1M513 424h1M540 424h1M567 424h1M594 424h1M79 425h1M106 425h1M133 425h1M160 425h1M187 425h1M215 425h1M242 425h1M269 425h1M296 425h1M323 425h1M350 425h1M377 425h1M404 425h1M431 425h1M458 425h1M486 425h1M513 425h1M540 425h1M567 425h1M594 425h1M79 426h1M106 426h1M133 426h1M160 426h1M187 426h1M215 429h1M242 429h1M269 429h1M296 429h1M323 429h1M350 429h1M377 429h1M404 429h1M431 429h1M458 429h1M486 429h1M513 429h1M540 429h1M567 429h1M594 429h1M79 430h1M106 430h1M133 430h1M160 430h1M187 430h1M215 430h1M242 430h1M269 430h1M296 430h1M323 430h1M350 430h1M377 430h1M404 430h1M431 430h1M458 430h1M486 430h1M513 430h1M540 430h1M567 430h1M594 430h1M79 431h1M106 431h1M133 431h1M160 431h1M187 431h1M215 434h1M242 434h1M269 434h1M296 434h1M323 434h1M350 434h1M377 434h1M404 434h1M431 434h1M458 434h1M486 434h1M513 434h1M540 434h1M567 434h1M594 434h1M79 435h1M106 435h1M133 435h1M160 435h1M187 435h1M215 435h1M242 435h1M269 435h1M296 435h1M323 435h1M350 435h1M377 435h1M404 435h1M431 435h1M458 435h1M486 435h1M513 435h1M540 435h1M567 435h1M594 435h1M79 436h1M106 436h1M133 436h1M160 436h1M187 436h1"/>
<path stroke="#000" d="M53 39h4M617 39h4M52 40h4M57 40h8M66 40h8M75 40h8M84 40h7M92 40h8M101 40h8M110 40h8M119 40h7M127 40h8M136 40h8M145 40h8M154 40h7M162 40h8M171 40h8M180 40h8M189 40h7M197 40h8M206 40h8M215 40h8M224 40h7M232 40h8M241 40h8M250 40h8M259 40h7M267 40h8M276 40h8M285 40h8M294 40h7M302 40h8M311 40h8M320 40h8M329 40h7M337 40h8M346 40h8M355 40h8M364 40h8M373 40h7M381 40h8M390 40h8M399 40h8M408 40h7M416 40h8M425 40h8M434 40h8M443 40h7M451 40h8M460 40h8M469 40h8M478 40h7M486 40h8M495 40h8M504 40h8M513 40h7M521 40h8M530 40h8M539 40h8M548 40h7M556 40h8M565 40h8M574 40h8M583 40h7M591 40h8M600 40h8M609 40h8M618 40h4M52 41h4M57 41h8M66 41h8M75 41h8M84 41h7M92 41h8M101 41h8M110 41h8M119 41h7M127 41h8M136 41h8M145 41h8M154 41h7M162 41h8M171 41h8M180 41h8M189 41h7M197 41h8M206 41h8M215 41h8M224 41h7M232 41h8M241 41h8M250 41h8M259 41h7M267 41h8M276 41h8M285 41h8M294 41h7M302 41h8M311 41h8M320 41h8M329 41h7M337 41h8M346 41h8M355 41h8M364 41h8M373 41h7M381 41h8M390 41h8M399 41h8M408 41h7M416 41h8M425 41h8M434 41h8M443 41h7M451 41h8M460 41h8M469 41h8M478 41h7M486 41h8M495 41h8M504 41h8M513 41h7M521 41h8M530 41h8M539 41h8M548 41h7M556 41h8M565 41h8M574 41h8M583 41h7M591 41h8M600 41h8M609 41h8M618 41h4M52 42h1M79 42h1M106 42h1M133 42h1M160 42h1M187 42h1M215 42h1M242 42h1M269 42h1M296 42h1M323 42h1M350 42h1M377 42h1M404 42h1M431 42h1M458 42h1M486 42h1M513 42h1M540 42h1M567 42h1M594 42h1M621 42h1M52 43h1M79 43h1M106 43h1M133 43h1M160 43h1M187 43h1M215 43h1M242 43h1M269 43h1M296 43h1M323 43h1M350 43h1M377 43h1M404 43h1M431 43h1M458 43h1M486 43h1M513 43h1M540 43h1M567 43h1M594 43h1M621 43h1M53 46h2M619 46h2M53 52h2M619 52h2M53 59h2M619 59h2M53 66h2M619 66h2M53 72h2M619 72h2M53 79h2M619 79h2M53 86h2M619 86h2M53 92h2M619 92h2M53 99h2M619 99h2M53 105h4M617 105h4M53 112h2M619 112h2M53 119h2M619 119h2M53 125h2M619 125h2M53 132h2M619 132h2M53 139h2M619 139h2M53 145h2M619 145h2M53 152h2M619 152h2M53 159h2M619 159h2M53 165h2M619 165h2M53 172h4M617 172h4M53 179h2M619 179h2M53 185h2M619 185h2M53 192h2M619 192h2M53 199h2M619 199h2M53 205h2M619 205h2M53 212h2M619 212h2M53 219h2M619 219h2M53 225h2M619 225h2M53 232h2M619 232h2M53 238h4M617 238h4M53 245h2M619 245h2M53 252h2M619 252h2M53 258h2M619 258h2M53 265h2M619 265h2M53 272h2M619 272h2M53 278h2M619 278h2M53 285h2M619 285h2M53 292h2M619 292h2M53 298h2M619 298h2M53 305h4M617 305h4M53 312h2M619 312h2M53 318h2M619 318h2M53 325h2M619 325h2M53 332h2M619 332h2M53 338h2M619 338h2M53 345h2M619 345h2M53 352h2M619 352h2M53 358h2M619 358h2M53 365h2M619 365h2M53 371h4M617 371h4M53 378h2M619 378h2M53 385h2M619 385h2M53 391h2M619 391h2M53 398h2M619 398h2M53 405h2M619 405h2M53 411h2M619 411h2M53 418h2M619 418h2M53 425h2M619 425h2M53 431h2M619 431h2M52 434h1M79 434h1M106 434h1M133 434h1M160 434h1M187 434h1M215 434h1M242 434h1M269 434h1M296 434h1M323 434h1M350 434h1M377 434h1M404 434h1M431 434h1M458 434h1M486 434h1M513 434h1M540 434h1M567 434h1M594 434h1M621 434h1M52 435h1M79 435h1M106 435h1M133 435h1M160 435h1M187 435h1M215 435h1M242 435h1M269 435h1M296 435h1M323 435h1M350 435h1M377 435h1M404 435h1M431 435h1M458 435h1M486 435h1M513 435h1M540 435h1M567 435h1M594 435h1M621 435h1M52 436h4M57 436h8M66 436h8M75 436h8M84 436h7M92 436h8M101 436h8M110 436h8M119 436h7M127 436h8M136 436h8M145 436h8M154 436h7M162 436h8M171 436h8M180 436h8M189 436h7M197 436h8M206 436h8M215 436h8M224 436h7M232 436h8M241 436h8M250 436h8M259 436h7M267 436h8M276 436h8M285 436h8M294 436h7M302 436h8M311 436h8M320 436h8M329 436h7M337 436h8M346 436h8M355 436h8M364 436h8M373 436h7M381 436h8M390 436h8M399 436h8M408 436h7M416 436h8M425 436h8M434 436h8M443 436h7M451 436h8M460 436h8M469 436h8M478 436h7M486 436h8M495 436h8M504 436h8M513 436h7M521 436h8M530 436h8M539 436h8M548 436h7M556 436h8M565 436h8M574 436h8M583 436h7M591 436h8M600 436h8M609 436h8M618 436h4M52 437h4M57 437h8M66 437h8M75 437h8M84 437h7M92 437h8M101 437h8M110 437h8M119 437h7M127 437h8M136 437h8M145 437h8M154 437h7M162 437h8M171 437h8M180 437h8M189 437h7M197 437h8M206 437h8M215 437h8M224 437h7M232 437h8M241 437h8M250 437h8M259 437h7M267 437h8M276 437h8M285 437h8M294 437h7M302 437h8M311 437h8M320 437h8M329 437h7M337 437h8M346 437h8M355 437h8M364 437h8M373 437h7M381 437h8M390 437h8M399 437h8M408 437h7M416 437h8M425 437h8M434 437h8M443 437h7M451 437h8M460 437h8M469 437h8M478 437h7M486 437h8M495 437h8M504 437h8M513 437h7M521 437h8M530 437h8M539 437h8M548 437h7M556 437h8M565 437h8M574 437h8M583 437h7M591 437h8M600 437h8M609 437h8M618 437h4M53 438h4M617 438h4"/>
<path stroke="#ff0000" d="M174 46h1M174 47h1M174 48h1M160 49h29M174 50h1M174 51h1M174 52h1M608 403h1M608 404h1M608 405h1M481 406h1M605 406h7M450 407h1M481 407h1M577 407h35M333 408h1M450 408h1M481 408h1M513 408h64M608 408h1M333 409h1M450 409h1M466 409h47M608 409h1M285 410h1M333 410h1M392 410h74M481 410h1M608 410h1M285 411h1M322 411h70M450 411h1M481 411h1M285 412h1M298 412h24M333 412h1M450 412h1M481 412h1M282 413h16M333 413h1M450 413h1M282 414h7M333 414h1M227 415h1M282 415h7M214 416h1M227 416h1M285 416h1M214 417h1M227 417h1M257 417h32M209 418h1M214 418h1M221 418h36M285 418h1M162 419h1M209 419h1M211 419h10M227 419h1M285 419h1M157 420h1M162 420h1M209 420h1M211 420h2M214 420h1M227 420h1M285 420h1M157 421h1M162 421h1M186 421h27M214 421h1M227 421h1M157 422h1M159 422h27M209 422h1M214 422h1M154 423h7M162 423h1M209 423h1M157 424h1M162 424h1M209 424h1M154 425h7M162 425h1M154 426h7M95 427h1M154 427h7M92 428h1M95 428h1M157 428h1M92 429h1M95 429h1M127 429h34M82 430h1M92 430h35M157 430h1M62 431h1M82 431h1M89 431h7M157 431h1M57 432h1M62 432h1M82 432h1M85 432h5M92 432h1M95 432h1M157 432h1M57 433h1M62 433h1M73 433h13M92 433h1M95 433h1M57 434h1M59 434h14M82 434h1M92 434h1M54 435h7M62 435h1M82 435h1M57 436h1M62 436h1M82 436h1M54 437h7M62 437h1M57 438h1M57 439h1M57 440h1"/>
<path stroke="#00c000" d="M171 59h1M177 59h1M172 60h1M176 60h1M173 61h1M175 61h1M160 62h29M173 63h1M175 63h1M172 64h1M176 64h1M171 65h1M177 65h1M617 105h1M623 105h1M618 106h1M622 106h1M616 107h1M619 107h1M621 107h2M616 108h2M620 108h3M615 109h1M617 109h5M615 110h2M618 110h5M616 111h5M623 111h1M614 112h1M617 112h5M614 113h9M613 114h1M615 114h6M622 114h1M614 115h5M620 115h2M613 116h1M615 116h5M621 116h1M611 117h1M614 117h6M612 118h1M614 118h4M619 118h2M610 119h1M613 119h4M618 119h1M620 119h1M609 120h1M611 120h1M613 120h3M617 120h1M619 120h1M608 121h1M610 121h1M612 121h4M618 121h1M609 122h1M611 122h3M616 122h1M619 122h1M607 123h1M610 123h5M617 123h1M606 124h1M608 124h1M611 124h3M615 124h1M607 125h1M609 125h4M614 125h1M616 125h1M606 126h1M608 126h3M612 126h2M615 126h1M605 127h1M607 127h3M611 127h1M614 127h1M605 128h2M608 128h5M606 129h6M613 129h1M605 130h8M605 131h7M605 132h8M605 133h7M605 134h1M607 134h3M611 134h1M605 135h7M605 136h7M605 137h7M605 138h1M607 138h3M611 138h1M605 139h7M605 140h7M605 141h7M605 142h1M607 142h3M611 142h1M605 143h7M605 144h7M605 145h7M605 146h1M607 146h3M611 146h1M605 147h7M605 148h7M605 149h7M605 150h1M607 150h3M611 150h1M605 151h7M605 152h7M605 153h7M605 154h1M607 154h3M611 154h1M605 155h7M605 156h7M605 157h7M605 158h1M607 158h3M611 158h1M605 159h7M605 160h7M605 161h7M605 162h1M607 162h3M611 162h1M605 163h7M605 164h7M605 165h7M605 166h1M607 166h3M611 166h1M605 167h7M605 168h7M605 169h7M605 170h1M607 170h3M611 170h1M605 171h7M605 172h7M605 173h7M605 174h1M607 174h3M611 174h1M605 175h7M605 176h7M605 177h7M605 178h1M607 178h3M611 178h1M605 179h7M570 180h1M576 180h1M605 180h7M565 181h1M571 181h1M575 181h1M605 181h7M556 182h1M562 182h1M566 182h1M570 182h1M572 182h1M574 182h1M587 182h19M607 182h3M611 182h1M557 183h1M561 183h1M567 183h1M569 183h18M606 183h2M609 183h2M544 184h1M550 184h1M558 184h1M560 184h1M563 184h7M572 184h1M574 184h1M605 184h2M610 184h2M545 185h1M549 185h1M557 185h6M567 185h1M569 185h1M571 185h1M575 185h1M605 185h1M611 185h1M537 186h1M543 186h1M546 186h1M548 186h1M551 186h6M558 186h1M560 186h1M566 186h1M570 186h1M576 186h1M534 187h1M538 187h1M540 187h1M542 187h1M545 187h6M557 187h1M561 187h1M565 187h1M571 187h1M535 188h1M539 188h1M541 188h4M546 188h1M548 188h1M556 188h1M562 188h1M531 189h1M536 189h5M545 189h1M549 189h1M528 190h1M532 190h1M534 190h1M536 190h4M541 190h1M544 190h1M550 190h1M529 191h1M533 191h1M535 191h2M538 191h1M542 191h1M526 192h1M530 192h6M537 192h1M539 192h1M543 192h1M527 193h1M529 193h3M533 193h3M540 193h1M528 194h1M530 194h1M532 194h1M536 194h1M524 195h1M528 195h4M533 195h1M537 195h1M525 196h1M527 196h4M534 196h1M522 197h1M526 197h3M531 197h1M523 198h1M526 198h2M532 198h1M519 199h1M524 199h3M528 199h1M509 200h1M515 200h1M520 200h1M524 200h2M529 200h1M507 201h1M510 201h1M513 201h2M521 201h4M526 201h1M530 201h1M504 202h1M508 202h1M510 202h4M518 202h6M527 202h1M501 203h1M505 203h1M507 203h1M509 203h1M511 203h7M521 203h3M528 203h1M502 204h1M506 204h1M508 204h4M513 204h1M520 204h1M524 204h1M498 205h1M503 205h5M509 205h3M514 205h1M519 205h1M525 205h1M499 206h1M503 206h4M508 206h2M512 206h1M515 206h1M495 207h1M500 207h4M505 207h1M507 207h1M509 207h1M513 207h1M486 208h1M492 208h1M496 208h1M500 208h3M504 208h1M506 208h1M510 208h1M483 209h1M487 209h1M489 209h1M491 209h1M497 209h6M507 209h1M479 210h1M484 210h2M488 210h1M490 210h1M492 210h5M498 210h2M503 210h1M475 211h1M480 211h2M484 211h2M487 211h5M497 211h3M504 211h1M476 212h1M480 212h7M488 212h1M490 212h1M496 212h1M500 212h1M471 213h1M477 213h1M479 213h4M485 213h1M487 213h1M491 213h1M495 213h1M501 213h1M472 214h1M476 214h3M481 214h1M483 214h2M486 214h1M488 214h1M492 214h1M467 215h1M473 215h1M475 215h3M479 215h2M483 215h2M489 215h1M452 216h1M458 216h1M468 216h1M472 216h3M476 216h1M479 216h2M485 216h1M449 217h1M453 217h1M455 217h1M457 217h1M469 217h1M471 217h3M475 217h1M481 217h1M441 218h1M445 218h1M447 218h1M450 218h2M454 218h1M456 218h1M463 218h8M472 218h1M476 218h1M442 219h1M446 219h1M450 219h2M453 219h10M469 219h1M471 219h1M477 219h1M437 220h1M443 220h1M445 220h1M447 220h6M454 220h1M456 220h1M468 220h1M472 220h1M438 221h1M442 221h1M444 221h3M448 221h1M451 221h1M453 221h1M457 221h1M467 221h1M473 221h1M427 222h1M433 222h1M439 222h1M441 222h3M445 222h1M447 222h1M449 222h2M452 222h1M454 222h1M458 222h1M423 223h1M428 223h2M432 223h1M436 223h7M446 223h1M449 223h2M455 223h1M416 224h1M422 224h1M424 224h1M428 224h8M439 224h1M441 224h1M445 224h1M447 224h1M451 224h1M392 225h1M398 225h1M417 225h1M421 225h1M425 225h4M430 225h1M438 225h1M442 225h1M370 226h1M376 226h1M393 226h1M397 226h1M418 226h1M420 226h5M426 226h1M429 226h1M431 226h1M437 226h1M443 226h1M371 227h1M375 227h1M394 227h1M396 227h1M407 227h14M425 227h1M427 227h2M432 227h1M365 228h1M371 228h2M374 228h1M390 228h17M418 228h1M420 228h1M424 228h1M427 228h2M433 228h1M363 229h1M366 229h1M369 229h2M372 229h18M394 229h1M396 229h1M417 229h1M421 229h1M423 229h1M429 229h1M364 230h1M367 230h6M374 230h1M393 230h1M397 230h1M416 230h1M422 230h1M361 231h1M365 231h1M367 231h3M371 231h1M375 231h1M392 231h1M398 231h1M358 232h1M362 232h1M364 232h1M366 232h2M369 232h2M376 232h1M356 233h1M359 233h1M362 233h6M370 233h1M357 234h1M360 234h6M368 234h1M371 234h1M344 235h1M349 235h2M355 235h1M358 235h1M360 235h4M365 235h1M369 235h1M345 236h1M349 236h2M354 236h1M358 236h3M362 236h1M366 236h1M339 237h1M345 237h2M348 237h1M351 237h11M363 237h1M367 237h1M337 238h1M340 238h1M343 238h2M347 238h6M357 238h2M361 238h1M364 238h1M338 239h1M341 239h6M348 239h1M351 239h1M353 239h1M356 239h1M362 239h1M336 240h1M339 240h1M341 240h2M345 240h1M349 240h2M354 240h1M334 241h1M337 241h1M340 241h2M343 241h2M349 241h2M355 241h1M333 242h1M335 242h1M338 242h4M344 242h1M334 243h1M336 243h1M338 243h2M342 243h1M345 243h1M331 244h1M335 244h1M337 244h2M340 244h1M343 244h1M319 245h1M325 245h1M332 245h1M336 245h3M341 245h1M310 246h1M315 246h2M320 246h2M324 246h1M333 246h5M339 246h1M342 246h1M302 247h1M308 247h1M311 247h1M315 247h2M320 247h2M323 247h1M329 247h6M338 247h1M340 247h1M303 248h1M307 248h1M312 248h1M314 248h1M316 248h13M333 248h1M335 248h1M339 248h1M304 249h1M306 249h10M318 249h1M321 249h1M323 249h1M332 249h1M336 249h1M293 250h1M299 250h1M303 250h4M312 250h1M314 250h1M317 250h1M319 250h2M324 250h1M331 250h1M337 250h1M291 251h1M294 251h1M297 251h6M304 251h1M306 251h1M311 251h1M315 251h2M319 251h2M325 251h1M290 252h1M292 252h1M295 252h4M303 252h1M307 252h1M310 252h1M315 252h2M321 252h1M289 253h1M291 253h1M293 253h1M295 253h2M302 253h1M308 253h1M288 254h1M290 254h1M292 254h1M294 254h2M297 254h1M287 255h1M289 255h1M291 255h1M293 255h3M298 255h1M288 256h1M290 256h1M292 256h3M296 256h1M299 256h1M286 257h1M289 257h1M291 257h3M295 257h1M297 257h1M285 258h1M287 258h1M290 258h3M294 258h1M296 258h1M284 259h1M286 259h1M288 259h4M293 259h1M295 259h1M283 260h1M285 260h1M287 260h3M292 260h1M294 260h1M284 261h1M286 261h3M290 261h1M293 261h1M283 262h1M285 262h1M287 262h1M289 262h1M291 262h1M283 263h2M286 263h1M288 263h3M292 263h1M284 264h6M291 264h1M283 265h8M283 266h7M283 267h7M283 268h7M283 269h1M285 269h3M289 269h1M282 270h1M284 270h5M282 271h8M283 272h2M286 272h4M282 273h8M282 274h7M282 275h3M286 275h4M282 276h7M282 277h1M284 277h3M288 277h1M282 278h7M282 279h7M282 280h7M281 281h8M281 282h7M282 283h2M285 283h4M268 284h1M274 284h1M282 284h5M288 284h1M258 285h1M264 285h1M269 285h1M273 285h1M278 285h8M287 285h1M244 286h1M250 286h1M259 286h1M263 286h1M269 286h9M282 286h2M285 286h2M288 286h1M237 287h1M243 287h1M245 287h1M249 287h1M260 287h1M262 287h1M264 287h5M271 287h1M281 287h2M286 287h2M238 288h1M242 288h1M246 288h1M248 288h1M254 288h10M270 288h1M272 288h1M281 288h1M287 288h1M228 289h1M234 289h1M239 289h1M241 289h1M244 289h10M260 289h1M262 289h1M269 289h1M273 289h1M229 290h1M233 290h1M238 290h6M246 290h1M248 290h1M259 290h1M263 290h1M268 290h1M274 290h1M199 291h1M205 291h1M207 291h1M213 291h1M230 291h1M232 291h6M239 291h1M241 291h1M245 291h1M249 291h1M258 291h1M264 291h1M200 292h1M204 292h1M208 292h1M212 292h1M221 292h12M238 292h1M242 292h1M244 292h1M250 292h1M201 293h1M203 293h1M207 293h14M230 293h1M232 293h1M237 293h1M243 293h1M177 294h1M181 294h1M183 294h1M187 294h1M200 294h7M210 294h1M229 294h1M233 294h1M174 295h1M178 295h1M180 295h1M182 295h1M186 295h1M194 295h6M201 295h1M203 295h1M209 295h1M211 295h1M228 295h1M234 295h1M175 296h1M179 296h1M181 296h1M183 296h1M185 296h1M187 296h7M200 296h1M204 296h1M208 296h1M212 296h1M171 297h1M176 297h3M180 297h7M199 297h1M205 297h1M207 297h1M213 297h1M168 298h1M172 298h1M174 298h1M176 298h4M181 298h1M183 298h1M185 298h1M164 299h1M169 299h2M173 299h4M178 299h1M182 299h1M186 299h1M160 300h1M165 300h2M169 300h2M172 300h4M177 300h1M179 300h1M181 300h1M183 300h1M187 300h1M161 301h1M165 301h2M168 301h4M173 301h3M180 301h1M154 302h1M160 302h1M162 302h1M164 302h5M170 302h1M172 302h1M176 302h1M154 303h2M159 303h6M166 303h1M168 303h2M171 303h1M173 303h1M177 303h1M155 304h6M162 304h1M164 304h2M168 304h2M174 304h1M154 305h1M156 305h3M160 305h2M164 305h2M170 305h1M154 306h7M166 306h1M154 307h7M154 308h7M154 309h1M156 309h3M160 309h1M154 310h7M154 311h7M154 312h7M154 313h1M156 313h3M160 313h1M154 314h7M154 315h7M154 316h7M154 317h1M156 317h3M160 317h1M154 318h7M154 319h7M154 320h7M154 321h1M156 321h3M160 321h1M154 322h7M154 323h7M154 324h7M154 325h1M156 325h3M160 325h1M154 326h7M154 327h7M154 328h7M154 329h1M156 329h3M160 329h1M154 330h7M154 331h7M154 332h7M154 333h1M156 333h3M160 333h1M154 334h7M154 335h7M154 336h7M154 337h1M156 337h3M160 337h1M154 338h7M154 339h7M154 340h7M154 341h1M156 341h3M160 341h1M154 342h7M95 343h1M101 343h1M154 343h7M96 344h1M100 344h1M154 344h7M93 345h1M97 345h1M99 345h1M127 345h32M160 345h1M89 346h1M94 346h2M98 346h29M155 346h2M158 346h2M90 347h1M94 347h2M97 347h1M99 347h1M154 347h2M159 347h2M89 348h1M91 348h1M93 348h1M95 348h2M100 348h1M154 348h1M160 348h1M89 349h2M92 349h4M97 349h1M101 349h1M90 350h5M98 350h1M89 351h7M99 351h1M89 352h7M88 353h1M90 353h5M89 354h7M87 355h1M89 355h5M95 355h1M86 356h1M88 356h1M90 356h5M87 357h1M89 357h4M94 357h2M81 358h1M87 358h4M93 358h1M95 358h1M79 359h1M82 359h1M85 359h2M88 359h2M91 359h1M94 359h1M78 360h1M80 360h1M83 360h6M90 360h1M92 360h1M79 361h1M81 361h1M83 361h3M87 361h1M91 361h1M93 361h1M76 362h1M80 362h1M82 362h2M85 362h2M92 362h1M74 363h1M77 363h1M80 363h4M86 363h1M74 364h2M78 364h5M84 364h1M87 364h1M75 365h2M78 365h2M83 365h1M85 365h1M73 366h1M76 366h5M84 366h1M72 367h1M74 367h1M76 367h3M81 367h1M73 368h1M75 368h5M82 368h1M72 369h1M74 369h3M78 369h3M71 370h1M73 370h3M77 370h1M80 370h1M70 371h1M72 371h1M74 371h3M78 371h1M68 372h1M71 372h1M73 372h3M77 372h1M79 372h1M69 373h1M72 373h3M76 373h1M78 373h1M67 374h1M70 374h1M72 374h2M75 374h1M77 374h1M66 375h1M68 375h1M71 375h2M74 375h1M76 375h1M78 375h1M67 376h1M69 376h4M75 376h1M77 376h1M65 377h1M68 377h4M73 377h1M76 377h1M65 378h2M68 378h4M74 378h1M65 379h8M66 380h6M73 380h1M62 381h1M66 381h4M72 381h1M61 382h1M63 382h1M66 382h5M61 383h2M64 383h4M69 383h3M62 384h2M65 384h2M70 384h2M60 385h1M63 385h4M71 385h1M60 386h2M63 386h5M61 387h6M68 387h1M60 388h5M66 388h2M60 389h8M60 390h7M60 391h7M60 392h1M62 392h3M66 392h1M60 393h7M60 394h7M60 395h7M60 396h7M60 397h7M60 398h7M59 399h8M58 400h1M60 400h7M58 401h7M66 401h1M59 402h7M57 403h1M60 403h4M65 403h2M57 404h2M60 404h5M66 404h1M56 405h1M58 405h6M65 405h1M56 406h9M57 407h5M64 407h1M56 408h1M58 408h5M56 409h8M57 410h5M63 410h1M56 411h7M55 412h8M56 413h6M54 414h1M56 414h2M59 414h4M54 415h7M62 415h1M53 416h1M55 416h5M61 416h1M54 417h1M56 417h3M60 417h1M62 417h1M52 418h1M55 418h4M61 418h1M51 419h1M53 419h1M55 419h5M52 420h1M54 420h4M59 420h2M53 421h3M58 421h1M60 421h1M53 422h2M56 422h1M59 422h1M53 423h3M57 423h1M52 424h1M54 424h1M56 424h1M58 424h1M51 425h1M54 425h1M57 425h1M53 426h1M53 427h1M53 428h1M53 429h1M53 430h1M52 431h1M52 432h1M52 433h1M52 434h1M52 435h1M52 436h1M52 437h1M52 438h1"/>
<path stroke="#0080ff" d="M171 72h1M174 72h1M177 72h1M172 73h1M174 73h1M176 73h1M616 73h1M619 73h1M622 73h1M173 74h3M617 74h1M619 74h3M623 74h1M160 75h29M615 75h1M618 75h5M173 76h3M616 76h7M172 77h1M174 77h1M176 77h1M613 77h1M616 77h8M171 78h1M174 78h1M177 78h1M614 78h8M614 79h7M622 79h1M612 80h9M623 80h1M613 81h9M610 82h1M613 82h8M611 83h9M611 84h7M619 84h2M610 85h8M620 85h1M610 86h9M608 87h1M611 87h7M609 88h8M609 89h9M608 90h7M617 90h1M608 91h8M606 92h1M609 92h8M607 93h8M607 94h9M606 95h7M615 95h1M606 96h8M605 97h1M607 97h8M605 98h2M608 98h5M606 99h8M605 100h7M613 100h1M604 101h8M602 102h1M605 102h6M612 102h1M602 103h2M605 103h7M603 104h9M602 105h7M610 105h1M600 106h1M602 106h8M611 106h1M601 107h1M603 107h5M610 107h1M597 108h1M600 108h1M602 108h7M595 109h1M598 109h1M600 109h7M608 109h1M594 110h1M596 110h10M607 110h1M594 111h2M597 111h7M605 111h1M608 111h1M593 112h1M595 112h7M603 112h1M606 112h1M594 113h7M602 113h1M593 114h8M603 114h1M593 115h7M601 115h1M594 116h7M593 117h8M593 118h7M593 119h7M593 120h7M592 121h8M592 122h8M591 123h1M593 123h7M591 124h9M592 125h8M590 126h8M590 127h9M589 128h1M591 128h6M598 128h1M589 129h9M590 130h8M589 131h7M589 132h8M588 133h1M590 133h5M596 133h1M588 134h8M589 135h7M588 136h7M587 137h9M587 138h7M595 138h1M587 139h8M587 140h8M587 141h7M587 142h8M587 143h7M587 144h7M587 145h7M587 146h7M587 147h7M587 148h7M587 149h7M587 150h7M570 151h1M573 151h1M576 151h1M587 151h7M566 152h1M569 152h1M571 152h3M575 152h1M587 152h7M567 153h1M569 153h1M571 153h4M582 153h12M556 154h1M559 154h1M562 154h1M568 154h14M588 154h5M544 155h1M547 155h1M550 155h1M557 155h1M559 155h1M561 155h1M566 155h9M587 155h2M590 155h1M592 155h2M536 156h1M539 156h1M542 156h1M545 156h1M547 156h1M549 156h1M558 156h3M562 156h5M568 156h4M573 156h1M575 156h1M587 156h1M590 156h1M593 156h1M537 157h1M539 157h1M541 157h1M546 157h3M554 157h9M567 157h1M569 157h3M573 157h1M576 157h1M534 158h1M537 158h4M544 158h10M558 158h3M566 158h1M569 158h1M572 158h1M532 159h1M535 159h9M546 159h3M557 159h1M559 159h1M561 159h1M530 160h1M533 160h1M535 160h6M545 160h1M547 160h1M549 160h1M556 160h1M559 160h1M562 160h1M531 161h1M533 161h9M544 161h1M547 161h1M550 161h1M528 162h1M531 162h9M542 162h1M526 163h1M529 163h9M539 163h1M527 164h1M529 164h7M537 164h1M540 164h1M525 165h1M528 165h8M538 165h1M523 166h1M526 166h8M536 166h1M521 167h1M524 167h1M526 167h6M533 167h1M520 168h1M522 168h10M534 168h1M518 169h1M521 169h1M523 169h7M532 169h1M508 170h1M511 170h1M514 170h1M519 170h1M521 170h8M530 170h1M505 171h1M508 171h2M511 171h1M513 171h1M520 171h7M528 171h1M531 171h1M506 172h1M508 172h1M510 172h3M517 172h8M526 172h1M529 172h1M503 173h1M506 173h11M520 173h6M527 173h1M500 174h1M503 174h10M519 174h3M523 174h1M526 174h1M498 175h1M501 175h1M503 175h7M511 175h1M513 175h1M518 175h1M521 175h1M524 175h1M495 176h1M498 176h2M501 176h11M514 176h1M496 177h1M498 177h1M500 177h9M511 177h1M485 178h1M488 178h1M491 178h1M497 178h8M506 178h1M508 178h1M486 179h1M488 179h1M490 179h1M495 179h9M505 179h2M509 179h1M481 180h1M484 180h1M487 180h3M491 180h5M497 180h5M503 180h1M506 180h1M478 181h1M481 181h2M484 181h8M496 181h1M498 181h1M500 181h2M504 181h1M475 182h1M478 182h2M481 182h1M483 182h7M495 182h1M498 182h1M501 182h1M476 183h1M478 183h1M480 183h9M490 183h1M472 184h1M475 184h1M477 184h9M488 184h1M491 184h1M469 185h1M472 185h2M475 185h8M484 185h1M486 185h1M467 186h1M470 186h1M472 186h8M481 186h1M483 186h2M487 186h1M468 187h1M470 187h9M480 187h2M484 187h1M451 188h1M454 188h1M457 188h1M469 188h8M478 188h1M481 188h1M452 189h1M454 189h1M456 189h1M467 189h7M475 189h1M477 189h1M448 190h1M451 190h1M453 190h3M459 190h8M469 190h4M474 190h2M478 190h1M445 191h1M448 191h2M451 191h8M468 191h3M472 191h1M475 191h1M446 192h1M448 192h1M450 192h6M467 192h1M470 192h1M473 192h1M437 193h1M440 193h1M443 193h1M446 193h9M456 193h1M438 194h1M440 194h4M445 194h8M454 194h1M457 194h1M426 195h1M429 195h1M432 195h1M439 195h11M451 195h1M453 195h1M424 196h1M427 196h1M429 196h3M437 196h10M448 196h1M450 196h2M454 196h1M416 197h1M419 197h1M422 197h1M425 197h1M427 197h4M432 197h6M439 197h7M448 197h1M451 197h1M417 198h1M419 198h1M421 198h1M426 198h7M438 198h1M440 198h4M445 198h1M391 199h1M394 199h1M397 199h1M418 199h3M424 199h7M437 199h1M440 199h1M443 199h1M446 199h1M370 200h1M373 200h1M376 200h1M392 200h1M394 200h1M396 200h1M413 200h11M426 200h4M431 200h1M363 201h1M366 201h1M369 201h1M371 201h1M373 201h1M375 201h1M393 201h3M401 201h12M418 201h3M425 201h3M429 201h1M432 201h1M364 202h1M366 202h1M368 202h1M372 202h3M384 202h17M417 202h1M419 202h1M421 202h1M424 202h1M427 202h1M430 202h1M361 203h1M364 203h4M370 203h14M393 203h3M416 203h1M419 203h1M422 203h1M359 204h1M362 204h8M372 204h3M392 204h1M394 204h1M396 204h1M360 205h1M362 205h6M371 205h1M373 205h1M375 205h1M391 205h1M394 205h1M397 205h1M357 206h1M360 206h9M370 206h1M373 206h1M376 206h1M358 207h9M369 207h1M350 208h1M353 208h1M356 208h1M359 208h6M366 208h1M351 209h1M353 209h1M355 209h1M357 209h8M367 209h1M341 210h1M344 210h1M347 210h1M352 210h11M365 210h1M339 211h1M342 211h1M344 211h3M350 211h7M358 211h1M360 211h1M362 211h1M337 212h1M340 212h1M342 212h4M347 212h4M352 212h3M357 212h1M360 212h1M363 212h1M335 213h1M338 213h1M340 213h8M351 213h1M353 213h1M355 213h1M336 214h1M338 214h8M350 214h1M353 214h1M356 214h1M333 215h1M336 215h9M346 215h1M331 216h1M334 216h9M344 216h1M347 216h1M332 217h1M334 217h7M342 217h1M345 217h1M330 218h1M333 218h8M343 218h1M331 219h8M341 219h1M318 220h1M321 220h1M324 220h1M332 220h5M338 220h1M310 221h1M313 221h1M316 221h1M319 221h1M321 221h1M323 221h1M330 221h7M339 221h1M301 222h1M304 222h1M307 222h1M311 222h1M313 222h1M315 222h1M320 222h3M325 222h10M337 222h1M293 223h1M296 223h1M299 223h1M302 223h1M304 223h1M306 223h1M312 223h3M318 223h7M331 223h1M333 223h1M335 223h1M294 224h1M296 224h1M298 224h1M303 224h3M309 224h9M320 224h3M330 224h1M333 224h1M336 224h1M291 225h1M294 225h4M301 225h8M312 225h3M319 225h1M321 225h1M323 225h1M290 226h1M292 226h9M303 226h3M311 226h1M313 226h1M315 226h1M318 226h1M321 226h1M324 226h1M288 227h1M291 227h1M293 227h5M302 227h1M304 227h1M306 227h1M310 227h1M313 227h1M316 227h1M287 228h1M289 228h10M301 228h1M304 228h1M307 228h1M288 229h1M290 229h7M299 229h1M286 230h1M288 230h7M296 230h1M285 231h1M287 231h9M297 231h1M285 232h2M288 232h4M293 232h1M296 232h1M284 233h1M286 233h7M294 233h1M285 234h7M293 234h1M284 235h8M284 236h7M292 236h1M283 237h1M285 237h7M284 238h8M283 239h8M283 240h7M283 241h8M283 242h8M283 243h7M283 244h7M283 245h7M283 246h7M283 247h7M283 248h7M283 249h7M282 250h8M283 251h7M282 252h8M282 253h7M282 254h8M282 255h8M282 256h7M282 257h7M282 258h7M282 259h7M282 260h7M282 261h7M282 262h7M268 263h1M271 263h1M274 263h1M282 263h7M269 264h1M271 264h1M273 264h1M282 264h7M258 265h1M261 265h1M264 265h1M270 265h3M282 265h7M243 266h1M246 266h1M249 266h1M259 266h1M261 266h1M263 266h1M268 266h11M282 266h7M244 267h1M246 267h1M248 267h1M260 267h3M264 267h5M270 267h3M279 267h10M236 268h1M239 268h1M242 268h1M245 268h3M254 268h11M269 268h1M271 268h1M273 268h1M282 268h1M284 268h3M288 268h1M228 269h1M231 269h1M234 269h1M237 269h1M239 269h1M241 269h1M243 269h11M260 269h3M268 269h1M271 269h1M274 269h1M283 269h1M285 269h1M287 269h1M224 270h1M227 270h1M229 270h3M233 270h1M238 270h10M259 270h1M261 270h1M263 270h1M282 270h1M285 270h1M288 270h1M211 271h1M214 271h1M217 271h1M225 271h1M227 271h1M229 271h4M236 271h7M244 271h1M246 271h1M248 271h1M258 271h1M261 271h1M264 271h1M212 272h1M214 272h1M216 272h1M226 272h10M238 272h3M243 272h1M246 272h1M249 272h1M208 273h1M211 273h1M213 273h3M221 273h12M237 273h1M239 273h1M241 273h1M206 274h1M209 274h1M211 274h10M226 274h4M231 274h1M233 274h1M236 274h1M239 274h1M242 274h1M207 275h1M209 275h7M225 275h1M227 275h3M231 275h1M234 275h1M200 276h1M203 276h1M206 276h1M208 276h7M216 276h1M224 276h1M227 276h1M230 276h1M180 277h1M183 277h1M186 277h1M201 277h1M203 277h1M205 277h8M214 277h1M217 277h1M178 278h1M181 278h1M183 278h3M202 278h10M213 278h1M179 279h1M181 279h4M194 279h16M211 279h1M214 279h1M171 280h1M174 280h1M177 280h1M180 280h14M202 280h3M206 280h1M209 280h1M212 280h1M168 281h1M171 281h2M174 281h1M176 281h1M178 281h7M201 281h1M203 281h1M205 281h1M169 282h1M171 282h1M173 282h11M185 282h1M200 282h1M203 282h1M206 282h1M170 283h8M179 283h3M183 283h1M186 283h1M161 284h1M164 284h1M167 284h9M178 284h1M181 284h1M184 284h1M158 285h1M161 285h2M164 285h1M166 285h1M168 285h5M174 285h1M176 285h1M155 286h1M158 286h2M161 286h1M163 286h5M169 286h1M171 286h1M173 286h2M177 286h1M156 287h1M158 287h1M160 287h9M171 287h1M174 287h1M152 288h1M155 288h1M157 288h9M153 289h1M155 289h8M164 289h1M166 289h1M150 290h1M153 290h7M161 290h1M163 290h2M167 290h1M149 291h1M151 291h8M160 291h2M164 291h1M148 292h1M150 292h7M158 292h1M161 292h1M148 293h10M149 294h7M158 294h1M147 295h9M147 296h8M156 296h1M146 297h1M148 297h6M155 297h1M147 298h8M145 299h1M147 299h8M144 300h1M146 300h7M143 301h1M145 301h6M152 301h2M144 302h8M153 302h1M142 303h1M144 303h7M152 303h1M142 304h9M140 305h1M143 305h7M151 305h1M138 306h1M141 306h8M150 306h1M139 307h1M141 307h9M134 308h1M137 308h1M140 308h8M131 309h1M134 309h2M137 309h9M147 309h2M124 310h1M127 310h1M130 310h1M132 310h1M134 310h1M136 310h8M145 310h1M148 310h1M125 311h1M127 311h1M129 311h1M133 311h9M143 311h1M146 311h1M121 312h1M124 312h1M126 312h3M131 312h8M141 312h1M144 312h1M122 313h1M124 313h7M133 313h3M137 313h1M139 313h1M118 314h1M121 314h1M123 314h6M132 314h1M134 314h1M136 314h2M140 314h1M116 315h1M119 315h1M121 315h7M129 315h1M131 315h1M134 315h1M137 315h1M114 316h1M117 316h1M119 316h7M127 316h1M130 316h1M112 317h1M115 317h1M117 317h8M126 317h1M113 318h1M115 318h8M124 318h1M127 318h1M110 319h1M113 319h9M123 319h1M107 320h1M110 320h10M121 320h1M124 320h1M108 321h1M110 321h1M112 321h6M119 321h1M122 321h1M105 322h1M108 322h10M120 322h1M100 323h1M103 323h1M106 323h10M118 323h1M100 324h2M103 324h1M105 324h7M113 324h1M115 324h1M101 325h13M116 325h1M100 326h11M113 326h1M100 327h7M108 327h1M110 327h1M100 328h7M108 328h1M111 328h1M100 329h7M100 330h7M100 331h7M98 332h1M100 332h7M99 333h8M96 334h1M99 334h8M94 335h1M97 335h8M106 335h1M95 336h1M97 336h7M105 336h1M92 337h1M95 337h9M106 337h1M91 338h1M93 338h9M104 338h1M90 339h1M92 339h8M101 339h1M89 340h1M91 340h9M102 340h1M88 341h1M90 341h8M100 341h1M89 342h9M88 343h9M98 343h1M88 344h8M97 344h1M89 345h6M96 345h1M88 346h8M88 347h7M89 348h5M83 349h1M86 349h1M88 349h7M78 350h1M81 350h1M84 350h1M86 350h1M88 350h7M77 351h1M79 351h3M83 351h1M85 351h3M89 351h5M78 352h1M80 352h15M77 353h12M90 353h3M94 353h1M76 354h9M86 354h1M88 354h2M91 354h1M93 354h1M75 355h1M77 355h5M83 355h1M86 355h1M88 355h2M91 355h1M94 355h1M76 356h9M74 357h1M76 357h8M74 358h9M73 359h1M75 359h7M83 359h1M74 360h7M82 360h1M72 361h1M74 361h8M71 362h1M73 362h7M70 363h1M72 363h6M79 363h2M69 364h1M71 364h8M80 364h1M70 365h8M79 365h1M69 366h9M68 367h9M78 367h1M67 368h1M69 368h7M77 368h1M66 369h1M68 369h9M66 370h10M67 371h8M65 372h9M75 372h1M64 373h1M66 373h7M74 373h1M65 374h1M67 374h5M73 374h1M63 375h1M65 375h8M63 376h8M72 376h1M64 377h5M70 377h1M61 378h1M63 378h7M71 378h1M61 379h10M62 380h7M61 381h9M61 382h7M69 382h1M60 383h1M62 383h7M60 384h8M61 385h7M60 386h9M60 387h7M58 388h1M61 388h5M67 388h1M59 389h9M59 390h8M58 391h7M66 391h1M59 392h7M67 392h1M59 393h8M58 394h1M60 394h7M59 395h7M59 396h8M58 397h9M58 398h8M57 399h1M59 399h8M58 400h1M60 400h5M58 401h8M57 402h7M66 402h1M57 403h8M55 404h1M58 404h7M56 405h8M57 406h8M55 407h8M64 407h1M55 408h8M54 409h1M56 409h8M54 410h2M57 410h5M55 411h8M54 412h8M63 412h1M54 413h7M52 414h1M55 414h5M61 414h1M53 415h9M53 416h8M52 417h7M60 417h1M52 418h1M54 418h6M61 418h1M53 419h8M51 420h2M54 420h7M52 421h7M52 422h8M51 423h7M60 423h1M52 424h7M50 425h1M52 425h7M51 426h7M50 427h1M52 427h7M50 428h7M58 428h1M51 429h7M50 430h7M49 431h8M49 432h7M57 432h1M50 433h7M49 434h8M49 435h7M50 436h5M56 436h1M49 437h7M49 438h7M50 439h5M49 440h2M52 440h1M54 440h2M49 441h1M52 441h1M55 441h1"/>
<path stroke="#c000ff" d="M160 88h29M620 108h1M619 109h1M619 110h1M619 111h1M618 112h1M618 113h1M617 114h1M617 115h1M617 116h1M616 117h1M616 118h1M616 119h1M615 120h1M614 121h1M613 122h1M612 123h1M611 124h1M611 125h1M610 126h1M609 127h1M609 128h1M608 129h1M608 130h1M608 131h1M608 132h1M608 133h1M608 134h1M608 135h1M608 136h1M608 137h1M608 138h1M608 139h1M608 140h1M608 141h1M608 142h1M608 143h1M608 144h1M608 145h1M608 146h1M608 147h1M608 148h1M608 149h1M608 150h1M608 151h1M608 152h1M608 153h1M608 154h1M608 155h1M608 156h1M608 157h1M608 158h1M608 159h1M608 160h1M608 161h1M608 162h1M608 163h1M608 164h1M608 165h1M608 166h1M608 167h1M608 168h1M608 169h1M608 170h1M608 171h1M608 172h1M608 173h1M608 174h1M608 175h1M608 176h1M608 177h1M608 178h1M608 179h1M608 180h1M605 181h4M587 182h18M570 183h17M563 184h7M557 185h6M551 186h6M545 187h6M541 188h4M539 189h2M537 190h2M535 191h2M531 192h4M529 193h2M528 194h1M528 195h1M527 196h1M527 197h1M526 198h1M526 199h1M524 200h2M522 201h2M518 202h4M512 203h6M508 204h4M506 205h2M504 206h2M502 207h2M500 208h2M497 209h3M492 210h5M487 211h5M482 212h5M479 213h3M477 214h2M475 215h2M473 216h2M471 217h2M463 218h8M453 219h10M447 220h6M444 221h3M442 222h2M436 223h6M429 224h7M425 225h4M421 226h4M407 227h14M390 228h17M372 229h18M370 230h2M368 231h2M366 232h2M364 233h2M363 234h1M361 235h2M358 236h3M352 237h6M347 238h5M343 239h4M342 240h1M341 241h1M340 242h1M339 243h1M338 244h1M336 245h2M334 246h2M329 247h5M316 248h13M307 249h9M303 250h4M299 251h4M297 252h2M295 253h2M294 254h1M294 255h1M293 256h1M291 257h2M290 258h1M289 259h1M288 260h1M288 261h1M287 262h1M286 263h1M286 264h1M286 265h1M286 266h1M286 267h1M286 268h1M286 269h1M286 270h1M286 271h1M286 272h1M286 273h1M286 274h1M286 275h1M286 276h1M286 277h1M285 278h1M285 279h1M285 280h1M285 281h1M285 282h1M285 283h1M284 284h1M278 285h7M269 286h9M264 287h5M254 288h10M244 289h10M238 290h6M233 291h5M221 292h12M207 293h14M200 294h7M194 295h6M187 296h7M180 297h7M176 298h4M174 299h2M172 300h2M169 301h3M165 302h4M161 303h4M157 304h4M157 305h1M157 306h1M157 307h1M157 308h1M157 309h1M157 310h1M157 311h1M157 312h1M157 313h1M157 314h1M157 315h1M157 316h1M157 317h1M157 318h1M157 319h1M157 320h1M157 321h1M157 322h1M157 323h1M157 324h1M157 325h1M157 326h1M157 327h1M157 328h1M157 329h1M157 330h1M157 331h1M157 332h1M157 333h1M157 334h1M157 335h1M157 336h1M157 337h1M157 338h1M157 339h1M157 340h1M157 341h1M157 342h1M157 343h1M157 344h1M127 345h31M98 346h29M97 347h1M95 348h2M92 349h3M92 350h1M92 351h1M92 352h1M92 353h1M92 354h1M92 355h1M91 356h1M90 357h1M90 358h1M88 359h2M86 360h2M84 361h2M82 362h2M81 363h1M80 364h1M78 365h2M77 366h1M77 367h1M76 368h1M76 369h1M75 370h1M75 371h1M74 372h1M74 373h1M72 374h2M71 375h1M70 376h1M70 377h1M69 378h1M69 379h1M68 380h1M68 381h1M68 382h1M66 383h2M65 384h1M64 385h1M64 386h1M63 387h1M63 388h1M63 389h1M63 390h1M63 391h1M63 392h1M63 393h1M63 394h1M63 395h1M63 396h1M63 397h1M63 398h1M63 399h1M63 400h1M63 401h1M62 402h1M61 403h1M61 404h1M60 405h1M60 406h1M59 407h1M59 408h1M59 409h1M59 410h1M59 411h1M59 412h1M59 413h1M59 414h1M57 415h2M57 416h1M57 417h1M57 418h1M56 419h1M55 420h1M55 421h1M54 422h1M54 423h1M54 424h1M54 425h1M53 426h1M53 427h1M53 428h1M53 429h1M53 430h1M52 431h1M52 432h1M52 433h1M52 434h1M52 435h1M52 436h1M52 437h1M52 438h1"/>
<path stroke="#000" d="M52 39h570M52 40h1M621 40h1M52 41h1M621 41h1M52 42h1M621 42h1M52 43h1M621 43h1M52 44h1M621 44h1M52 45h1M621 45h1M52 46h1M621 46h1M52 47h1M621 47h1M52 48h1M621 48h1M52 49h1M621 49h1M52 50h1M621 50h1M52 51h1M621 51h1M52 52h1M621 52h1M52 53h1M621 53h1M52 54h1M621 54h1M52 55h1M621 55h1M52 56h1M621 56h1M52 57h1M621 57h1M52 58h1M621 58h1M52 59h1M621 59h1M52 60h1M621 60h1M52 61h1M621 61h1M52 62h1M621 62h1M52 63h1M621 63h1M52 64h1M621 64h1M52 65h1M621 65h1M52 66h1M621 66h1M52 67h1M621 67h1M52 68h1M621 68h1M52 69h1M621 69h1M52 70h1M621 70h1M52 71h1M621 71h1M52 72h1M621 72h1M52 73h1M621 73h1M52 74h1M621 74h1M52 75h1M621 75h1M52 76h1M621 76h1M52 77h1M621 77h1M52 78h1M621 78h1M52 79h1M621 79h1M52 80h1M621 80h1M52 81h1M621 81h1M52 82h1M621 82h1M52 83h1M621 83h1M52 84h1M621 84h1M52 85h1M621 85h1M52 86h1M621 86h1M52 87h1M621 87h1M52 88h1M621 88h1M52 89h1M621 89h1M52 90h1M621 90h1M52 91h1M621 91h1M52 92h1M621 92h1M52 93h1M621 93h1M52 94h1M621 94h1M52 95h1M621 95h1M52 96h1M621 96h1M52 97h1M621 97h1M52 98h1M621 98h1M52 99h1M621 99h1M52 100h1M621 100h1M52 101h1M621 101h1M52 102h1M621 102h1M52 103h1M621 103h1M52 104h1M621 104h1M52 105h1M621 105h1M52 106h1M621 106h1M52 107h1M621 107h1M52 108h1M621 108h1M52 109h1M621 109h1M52 110h1M621 110h1M52 111h1M621 111h1M52 112h1M621 112h1M52 113h1M621 113h1M52 114h1M621 114h1M52 115h1M621 115h1M52 116h1M621 116h1M52 117h1M621 117h1M52 118h1M621 118h1M52 119h1M621 119h1M52 120h1M621 120h1M52 121h1M621 121h1M52 122h1M621 122h1M52 123h1M621 123h1M52 124h1M621 124h1M52 125h1M621 125h1M52 126h1M621 126h1M52 127h1M621 127h1M52 128h1M621 128h1M52 129h1M621 129h1M52 130h1M621 130h1M52 131h1M621 131h1M52 132h1M621 132h1M52 133h1M621 133h1M52 134h1M621 134h1M52 135h1M621 135h1M52 136h1M621 136h1M52 137h1M621 137h1M52 138h1M621 138h1M52 139h1M621 139h1M52 140h1M621 140h1M52 141h1M621 141h1M52 142h1M621 142h1M52 143h1M621 143h1M52 144h1M621 144h1M52 145h1M621 145h1M52 146h1M621 146h1M52 147h1M621 147h1M52 148h1M621 148h1M52 149h1M621 149h1M52 150h1M621 150h1M52 151h1M621 151h1M52 152h1M621 152h1M52 153h1M621 153h1M52 154h1M621 154h1M52 155h1M621 155h1M52 156h1M621 156h1M52 157h1M621 157h1M52 158h1M621 158h1M52 159h1M621 159h1M52 160h1M621 160h1M52 161h1M621 161h1M52 162h1M621 162h1M52 163h1M621 163h1M52 164h1M621 164h1M52 165h1M621 165h1M52 166h1M621 166h1M52 167h1M621 167h1M52 168h1M621 168h1M52 169h1M621 169h1M52 170h1M621 170h1M52 171h1M621 171h1M52 172h1M621 172h1M52 173h1M621 173h1M52 174h1M621 174h1M52 175h1M621 175h1M52 176h1M621 176h1M52 177h1M621 177h1M52 178h1M621 178h1M52 179h1M621 179h1M52 180h1M621 180h1M52 181h1M621 181h1M52 182h1M621 182h1M52 183h1M621 183h1M52 184h1M621 184h1M52 185h1M621 185h1M52 186h1M621 186h1M52 187h1M621 187h1M52 188h1M621 188h1M52 189h1M621 189h1M52 190h1M621 190h1M52 191h1M621 191h1M52 192h1M621 192h1M52 193h1M621 193h1M52 194h1M621 194h1M52 195h1M621 195h1M52 196h1M621 196h1M52 197h1M621 197h1M52 198h1M621 198h1M52 199h1M621 199h1M52 200h1M621 200h1M52 201h1M621 201h1M52 202h1M621 202h1M52 203h1M621 203h1M52 204h1M621 204h1M52 205h1M621 205h1M52 206h1M621 206h1M52 207h1M621 207h1M52 208h1M621 208h1M52 209h1M621 209h1M52 210h1M621 210h1M52 211h1M621 211h1M52 212h1M621 212h1M52 213h1M621 213h1M52 214h1M621 214h1M52 215h1M621 215h1M52 216h1M621 216h1M52 217h1M621 217h1M52 218h1M621 218h1M52 219h1M621 219h1M52 220h1M621 220h1M52 221h1M621 221h1M52 222h1M621 222h1M52 223h1M621 223h1M52 224h1M621 224h1M52 225h1M621 225h1M52 226h1M621 226h1M52 227h1M621 227h1M52 228h1M621 228h1M52 229h1M621 229h1M52 230h1M621 230h1M52 231h1M621 231h1M52 232h1M621 232h1M52 233h1M621 233h1M52 234h1M621 234h1M52 235h1M621 235h1M52 236h1M621 236h1M52 237h1M621 237h1M52 238h1M621 238h1M52 239h1M621 239h1M52 240h1M621 240h1M52 241h1M621 241h1M52 242h1M621 242h1M52 243h1M621 243h1M52 244h1M621 244h1M52 245h1M621 245h1M52 246h1M621 246h1M52 247h1M621 247h1M52 248h1M621 248h1M52 249h1M621 249h1M52 250h1M621 250h1M52 251h1M621 251h1M52 252h1M621 252h1M52 253h1M621 253h1M52 254h1M621 254h1M52 255h1M621 255h1M52 256h1M621 256h1M52 257h1M621 257h1M52 258h1M621 258h1M52 259h1M621 259h1M52 260h1M621 260h1M52 261h1M621 261h1M52 262h1M621 262h1M52 263h1M621 263h1M52 264h1M621 264h1M52 265h1M621 265h1M52 266h1M621 266h1M52 267h1M621 267h1M52 268h1M621 268h1M52 269h1M621 269h1M52 270h1M621 270h1M52 271h1M621 271h1M52 272h1M621 272h1M52 273h1M621 273h1M52 274h1M621 274h1M52 275h1M621 275h1M52 276h1M621 276h1M52 277h1M621 277h1M52 278h1M621 278h1M52 279h1M621 279h1M52 280h1M621 280h1M52 281h1M621 281h1M52 282h1M621 282h1M52 283h1M621 283h1M52 284h1M621 284h1M52 285h1M621 285h1M52 286h1M621 286h1M52 287h1M621 287h1M52 288h1M621 288h1M52 289h1M621 289h1M52 290h1M621 290h1M52 291h1M621 291h1M52 292h1M621 292h1M52 293h1M621 293h1M52 294h1M621 294h1M52 295h1M621 295h1M52 296h1M621 296h1M52 297h1M621 297h1M52 298h1M621 298h1M52 299h1M621 299h1M52 300h1M621 300h1M52 301h1M621 301h1M52 302h1M621 302h1M52 303h1M621 303h1M52 304h1M621 304h1M52 305h1M621 305h1M52 306h1M621 306h1M52 307h1M621 307h1M52 308h1M621 308h1M52 309h1M621 309h1M52 310h1M621 310h1M52 311h1M621 311h1M52 312h1M621 312h1M52 313h1M621 313h1M52 314h1M621 314h1M52 315h1M621 315h1M52 316h1M621 316h1M52 317h1M621 317h1M52 318h1M621 318h1M52 319h1M621 319h1M52 320h1M621 320h1M52 321h1M621 321h1M52 322h1M621 322h1M52 323h1M621 323h1M52 324h1M621 324h1M52 325h1M621 325h1M52 326h1M621 326h1M52 327h1M621 327h1M52 328h1M621 328h1M52 329h1M621 329h1M52 330h1M621 330h1M52 331h1M621 331h1M52 332h1M621 332h1M52 333h1M621 333h1M52 334h1M621 334h1M52 335h1M621 335h1M52 336h1M621 336h1M52 337h1M621 337h1M52 338h1M621 338h1M52 339h1M621 339h1M52 340h1M621 340h1M52 341h1M621 341h1M52 342h1M621 342h1M52 343h1M621 343h1M52 344h1M621 344h1M52 345h1M621 345h1M52 346h1M621 346h1M52 347h1M621 347h1M52 348h1M621 348h1M52 349h1M621 349h1M52 350h1M621 350h1M52 351h1M621 351h1M52 352h1M621 352h1M52 353h1M621 353h1M52 354h1M621 354h1M52 355h1M621 355h1M52 356h1M621 356h1M52 357h1M621 357h1M52 358h1M621 358h1M52 359h1M621 359h1M52 360h1M621 360h1M52 361h1M621 361h1M52 362h1M621 362h1M52 363h1M621 363h1M52 364h1M621 364h1M52 365h1M621 365h1M52 366h1M621 366h1M52 367h1M621 367h1M52 368h1M621 368h1M52 369h1M621 369h1M52 370h1M621 370h1M52 371h1M621 371h1M52 372h1M621 372h1M52 373h1M621 373h1M52 374h1M621 374h1M52 375h1M621 375h1M52 376h1M621 376h1M52 377h1M621 377h1M52 378h1M621 378h1M52 379h1M621 379h1M52 380h1M621 380h1M52 381h1M621 381h1M52 382h1M621 382h1M52 383h1M621 383h1M52 384h1M621 384h1M52 385h1M621 385h1M52 386h1M621 386h1M52 387h1M621 387h1M52 388h1M621 388h1M52 389h1M621 389h1M52 390h1M621 390h1M52 391h1M621 391h1M52 392h1M621 392h1M52 393h1M621 393h1M52 394h1M621 394h1M52 395h1M621 395h1M52 396h1M621 396h1M52 397h1M621 397h1M52 398h1M621 398h1M52 399h1M621 399h1M52 400h1M621 400h1M52 401h1M621 401h1M52 402h1M621 402h1M52 403h1M621 403h1M52 404h1M621 404h1M52 405h1M621 405h1M52 406h1M621 406h1M52 407h1M621 407h1M52 408h1M621 408h1M52 409h1M621 409h1M52 410h1M621 410h1M52 411h1M621 411h1M52 412h1M621 412h1M52 413h1M621 413h1M52 414h1M621 414h1M52 415h1M621 415h1M52 416h1M621 416h1M52 417h1M621 417h1M52 418h1M621 418h1M52 419h1M621 419h1M52 420h1M621 420h1M52 421h1M621 421h1M52 422h1M621 422h1M52 423h1M621 423h1M52 424h1M621 424h1M52 425h1M621 425h1M52 426h1M621 426h1M52 427h1M621 427h1M52 428h1M621 428h1M52 429h1M621 429h1M52 430h1M621 430h1M52 431h1M621 431h1M52 432h1M621 432h1M52 433h1M621 433h1M52 434h1M621 434h1M52 435h1M621 435h1M52 436h1M621 436h1M52 437h1M621 437h1M52 438h570"/>
</g>
<g fill="#000" style='font-family:"Liberation Mono",monospace;font-size:12px'>
<text transform="translate(335,24) scale(0.8333,1)" text-anchor="middle">Limiting the term of the technical committee members</text>
<text transform="translate(335,475) scale(0.8333,1)" text-anchor="middle">Date/Time (UTC)</text>
<text transform="translate(14,240.5) rotate(-90) scale(0.8333,1)" text-anchor="middle">Ballots</text>
<text class="n" x="43" y="443" text-anchor="middle">0</text>
<text class="n" x="37 43" y="376" text-anchor="middle">50</text>
<text class="n" x="31 37 43" y="310" text-anchor="middle">100</text>
<text class="n" x="31 37 43" y="243" text-anchor="middle">150</text>
<text class="n" x="31 37 43" y="177" text-anchor="middle">200</text>
<text class="n" x="31 37 43" y="110" text-anchor="middle">250</text>
<text class="n" x="31 37 43" y="44" text-anchor="middle">300</text>
<text class="n" x="31 37 43 49 55 61 67 73" y="456" text-anchor="middle">12<tspan class="p">/</tspan>19<tspan class="p">/</tspan>14</text>
<text class="n" x="40 46 52 58 64" y="469" text-anchor="middle">00<tspan class="p">:</tspan>00</text>
<text class="n" x="58 64 70 76 82 88 94 100" y="456" text-anchor="middle">12<tspan class="p">/</tspan>20<tspan class="p">/</tspan>14</text>
<text class="n" x="67 73 79 85 91" y="469" text-anchor="middle">00<tspan class="p">:</tspan>00</text>
<text class="n" x="85 91 97 103 109 115 121 127" y="456" text-anchor="middle">12<tspan class="p">/</tspan>21<tspan class="p">/</tspan>14</text>
<text class="n" x="94 100 106 112 118" y="469" text-anchor="middle">00<tspan class="p">:</tspan>00</text>
<text class="n" x="112 118 124 130 136 142 148 154" y="456" text-anchor="middle">12<tspan class="p">/</tspan>22<tspan class="p">/</tspan>14</text>
<text class="n" x="121 127 133 139 145" y="469" text-anchor="middle">00<tspan class="p">:</tspan>00</text>
<text class="n" x="139 145 151 157 163 169 175 181" y="456" text-anchor="middle">12<tspan class="p">/</tspan>23<tspan class="p">/</tspan>14</text>
<text class="n" x="148 154 160 166 172" y="469" text-anchor="middle">00<tspan class="p">:</tspan>00</text>
<text class="n" x="166 172 178 184 190 196 202 208" y="456" text-anchor="middle">12<tspan class="p">/</tspan>24<tspan class="p">/</tspan>14</text>
<text class="n" x="175 181 187 193 199" y="469" text-anchor="middle">00<tspan class="p">:</tspan>00</text>
<text class="n" x="194 200 206 212 218 224 230 236" y="456" text-anchor="middle">12<tspan class="p">/</tspan>25<tspan class="p">/</tspan>14</text>
<text class="n" x="203 209 215 221 227" y="469" text-anchor="middle">00<tspan class="p">:</tspan>00</text>
<text class="n" x="221 227 233 239 245 251 257 263" y="456" text-anchor="middle">12<tspan class="p">/</tspan>26<tspan class="p">/</tspan>14</text>
<text class="n" x="230 236 242 248 254" y="469" text-anchor="middle">00<tspan class="p">:</tspan>00</text>
<text class="n" x="248 254 260 266 272 278 284 290" y="456" text-anchor="middle">12<tspan class="p">/</tspan>27<tspan class="p">/</tspan>14</text>
<text class="n" x="257 263 269 275 281" y="469" text-anchor="middle">00<tspan class="p">:</tspan>00</text>
<text class="n" x="275 281 287 293 299 305 311 317" y="456" text-anchor="middle">12<tspan class="p">/</tspan>28<tspan class="p">/</tspan>14</text>
<text class="n" x="284 290 296 302 308" y="469" text-anchor="middle">00<tspan class="p">:</tspan>00</text>
<text class="n" x="302 308 314 320 326 332 338 344" y="456" text-anchor="middle">12<tspan class="p">/</tspan>29<tspan class="p">/</tspan>14</text>
<text class="n" x="311 317 323 329 335" y="469" text-anchor="middle">00<tspan class="p">:</tspan>00</text>
<text class="n" x="329 335 341 347 353 359 365 371" y="456" text-anchor="middle">12<tspan class="p">/</tspan>30<tspan class="p">/</tspan>14</text>
<text class="n" x="338 344 350 356 362" y="469" text-anchor="middle">00<tspan class="p">:</tspan>00</text>
<text class="n" x="356 362 368 374 380 386 392 398" y="456" text-anchor="middle">12<tspan class="p">/</tspan>31<tspan class="p">/</tspan>14</text>
<text class="n" x="365 371 377 383 389" y="469" text-anchor="middle">00<tspan class="p">:</tspan>00</text>
<text class="n" x="383 389 395 401 407 413 419 425" y="456" text-anchor="middle">01<tspan class="p">/</tspan>01<tspan class="p">/</tspan>15</text>
<text class="n" x="392 398 404 410 416" y="469" text-anchor="middle">00<tspan class="p">:</tspan>00</text>
<text class="n" x="410 416 422 428 434 440 446 452" y="456" text-anchor="middle">01<tspan class="p">/</tspan>02<tspan class="p">/</tspan>15</text>
<text class="n" x="419 425 431 437 443" y="469" text-anchor="middle">00<tspan class="p">:</tspan>00</text>
<text class="n" x="437 443 449 455 461 467 473 479" y="456" text-anchor="middle">01<tspan class="p">/</tspan>03<tspan class="p">/</tspan>15</text>
<text class="n" x="446 452 458 464 470" y="469" text-anchor="middle">00<tspan class="p">:</tspan>00</text>
<text class="n" x="465 471 477 483 489 495 501 507" y="456" text-anchor="middle">01<tspan class="p">/</tspan>04<tspan class="p">/</tspan>15</text>
<text class="n" x="474 480 486 492 498" y="469" text-anchor="middle">00<tspan class="p">:</tspan>00</text>
<text class="n" x="492 498 504 510 516 522 528 534" y="456" text-anchor="middle">01<tspan class="p">/</tspan>05<tspan class="p">/</tspan>15</text>
<text class="n" x="501 507 513 519 525" y="469" text-anchor="middle">00<tspan class="p">:</tspan>00</text>
<text class="n" x="519 525 531 537 543 549 555 561" y="456" text-anchor="middle">01<tspan class="p">/</tspan>06<tspan class="p">/</tspan>15</text>
<text class="n" x="528 534 540 546 552" y="469" text-anchor="middle">00<tspan class="p">:</tspan>00</text>
<text class="n" x="546 552 558 564 570 576 582 588" y="456" text-anchor="middle">01<tspan class="p">/</tspan>07<tspan class="p">/</tspan>15</text>
<text class="n" x="555 561 567 573 579" y="469" text-anchor="middle">00<tspan class="p">:</tspan>00</text>
<text class="n" x="573 579 585 591 597 603 609 615" y="456" text-anchor="middle">01<tspan class="p">/</tspan>08<tspan class="p">/</tspan>15</text>
<text class="n" x="582 588 594 600 606" y="469" text-anchor="middle">00<tspan class="p">:</tspan>00</text>
<text class="n" x="600 606 612 618 624 630 636 642" y="456" text-anchor="middle">01<tspan class="p">/</tspan>09<tspan class="p">/</tspan>15</text>
<text class="n" x="609 615 621 627 633" y="469" text-anchor="middle">00<tspan class="p">:</tspan>00</text>
<text transform="translate(154,54) scale(0.8333,1)" text-anchor="end">Rejected Ballots</text>
<text transform="translate(154,67) scale(0.8333,1)" text-anchor="end">Vote Tallied,</text>
<text transform="translate(154,80) scale(0.8333,1)" text-anchor="end">Received Ballots</text>
<text transform="translate(154,93) scale(0.8333,1)" text-anchor="end">Acknowledgements</text>
</g>
</svg>
</body></html>
